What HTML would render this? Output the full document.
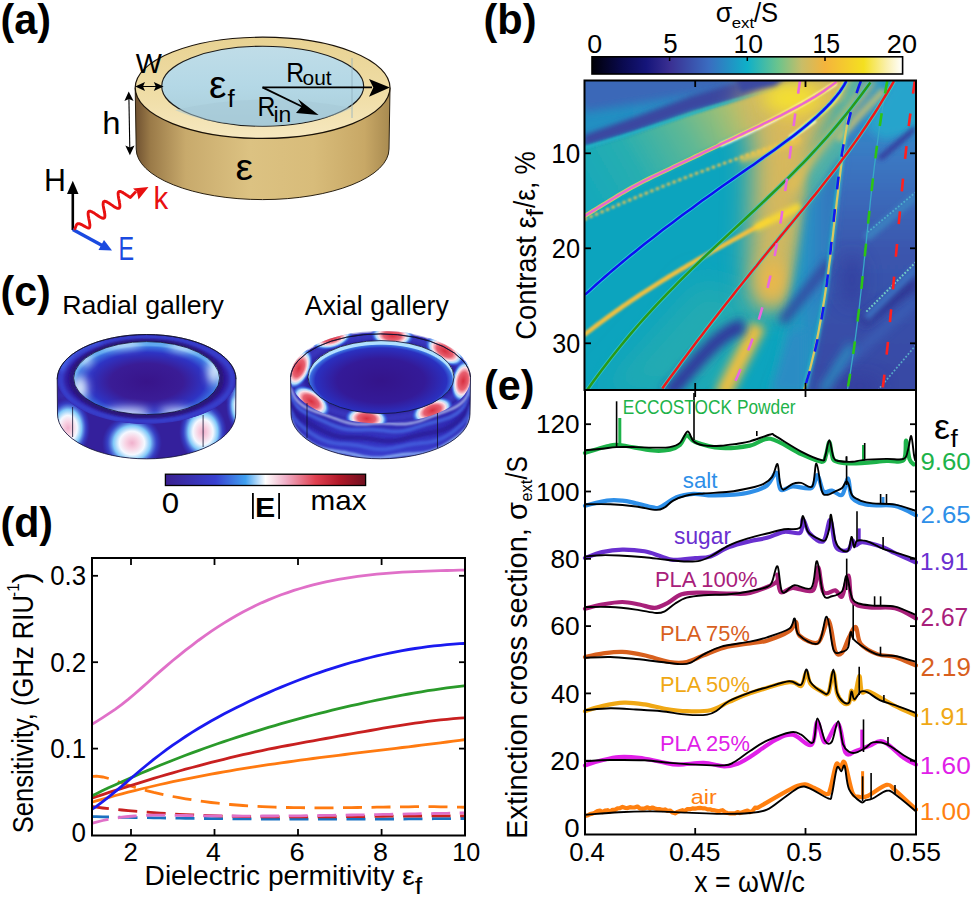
<!DOCTYPE html>
<html><head><meta charset="utf-8"><style>
html,body{margin:0;padding:0;background:#fff;width:973px;height:897px;overflow:hidden}
svg{display:block}
text{font-family:"Liberation Sans",sans-serif}
</style></head><body>
<svg width="973" height="897" viewBox="0 0 973 897">
<text x="0.5" y="34.3" font-size="42" fill="#000" text-anchor="start" font-weight="bold" textLength="50.5" lengthAdjust="spacingAndGlyphs" >(a)</text>
<text x="483.5" y="34.3" font-size="42" fill="#000" text-anchor="start" font-weight="bold" textLength="53" lengthAdjust="spacingAndGlyphs" >(b)</text>
<text x="0.5" y="306" font-size="42" fill="#000" text-anchor="start" font-weight="bold" textLength="50.3" lengthAdjust="spacingAndGlyphs" >(c)</text>
<text x="0.5" y="536.8" font-size="42" fill="#000" text-anchor="start" font-weight="bold" textLength="52.5" lengthAdjust="spacingAndGlyphs" >(d)</text>
<text x="484" y="399.7" font-size="42" fill="#000" text-anchor="start" font-weight="bold" textLength="50.5" lengthAdjust="spacingAndGlyphs" >(e)</text>
<defs><linearGradient id="cbar" x1="0" x2="1" y1="0" y2="0"><stop offset="0" stop-color="#000008"/><stop offset="0.1" stop-color="#0a0a50"/><stop offset="0.175" stop-color="#15157a"/><stop offset="0.25" stop-color="#3a2f92"/><stop offset="0.375" stop-color="#3a6cc0"/><stop offset="0.5" stop-color="#0fb0c8"/><stop offset="0.6" stop-color="#6cc48c"/><stop offset="0.675" stop-color="#c8bd68"/><stop offset="0.75" stop-color="#f4b43c"/><stop offset="0.875" stop-color="#f4e020"/><stop offset="0.95" stop-color="#faf0b0"/><stop offset="1" stop-color="#ffffff"/></linearGradient><clipPath id="clipb"><rect x="585" y="81" width="331" height="309"/></clipPath><filter id="bl1" filterUnits="userSpaceOnUse" x="0" y="0" width="973" height="897"><feGaussianBlur stdDeviation="1"/></filter><filter id="bl2" filterUnits="userSpaceOnUse" x="0" y="0" width="973" height="897"><feGaussianBlur stdDeviation="2.5"/></filter><filter id="bl4" filterUnits="userSpaceOnUse" x="0" y="0" width="973" height="897"><feGaussianBlur stdDeviation="5"/></filter><filter id="bl8" filterUnits="userSpaceOnUse" x="0" y="0" width="973" height="897"><feGaussianBlur stdDeviation="9"/></filter><filter id="bl12" filterUnits="userSpaceOnUse" x="0" y="0" width="973" height="897"><feGaussianBlur stdDeviation="14"/></filter></defs>
<rect x="592" y="56.8" width="310.6" height="17.2" fill="url(#cbar)" stroke="#000" stroke-width="1.6"/>
<line x1="669.6" y1="57" x2="669.6" y2="61" stroke="#000" stroke-width="1.5"/>
<line x1="747.3" y1="57" x2="747.3" y2="61" stroke="#000" stroke-width="1.5"/>
<line x1="825.0" y1="57" x2="825.0" y2="61" stroke="#000" stroke-width="1.5"/>
<text x="587.23" y="52.90" font-size="26.52" fill="#000" textLength="14.91" lengthAdjust="spacingAndGlyphs">0</text>
<text x="663.36" y="52.90" font-size="26.91" fill="#000" textLength="14.40" lengthAdjust="spacingAndGlyphs">5</text>
<text x="733.41" y="52.90" font-size="26.52" fill="#000" textLength="29.55" lengthAdjust="spacingAndGlyphs">10</text>
<text x="812.54" y="52.90" font-size="26.91" fill="#000" textLength="27.61" lengthAdjust="spacingAndGlyphs">15</text>
<text x="886.85" y="52.90" font-size="26.52" fill="#000" textLength="30.13" lengthAdjust="spacingAndGlyphs">20</text>
<text x="715.87" y="22.10" font-size="26.79" fill="#000" textLength="16.42" lengthAdjust="spacingAndGlyphs">σ</text>
<text x="731.68" y="27.60" font-size="15.36" fill="#000" textLength="22.47" lengthAdjust="spacingAndGlyphs">ext</text>
<text x="754.00" y="22.30" font-size="28.24" fill="#000" textLength="24.21" lengthAdjust="spacingAndGlyphs">/S</text>
<g clip-path="url(#clipb)"><defs><linearGradient id="tlb" gradientUnits="userSpaceOnUse" x1="585" y1="0" x2="810" y2="0"><stop offset="0" stop-color="#2090c2"/><stop offset="0.45" stop-color="#2a8cc4"/><stop offset="0.75" stop-color="#3a6cb8"/><stop offset="1" stop-color="#3a50a8"/></linearGradient><linearGradient id="grb" gradientUnits="userSpaceOnUse" x1="585" y1="200" x2="760" y2="100"><stop offset="0" stop-color="#14a8bb"/><stop offset="0.3" stop-color="#28aeb0"/><stop offset="0.6" stop-color="#60b894"/><stop offset="0.85" stop-color="#a8c070"/><stop offset="1" stop-color="#e8c050"/></linearGradient><linearGradient id="rgt" gradientUnits="userSpaceOnUse" x1="0" y1="81" x2="0" y2="390"><stop offset="0" stop-color="#2a9ccc"/><stop offset="0.25" stop-color="#3a78c2"/><stop offset="0.55" stop-color="#3a56ae"/><stop offset="1" stop-color="#3848a4"/></linearGradient><linearGradient id="mid" gradientUnits="userSpaceOnUse" x1="780" y1="0" x2="840" y2="0"><stop offset="0" stop-color="#18a8bc"/><stop offset="0.5" stop-color="#2a8cc4"/><stop offset="1" stop-color="#3a6cbc"/></linearGradient></defs><rect x="580" y="76" width="340" height="318" fill="#0ca4be"/><path d="M600,392 L700,280 L760,300 L720,392Z" fill="#20aab2" filter="url(#bl12)"/><path d="M570,150 L635,131 L691,111 L760,92 L830,72 L860,72 L850,100 L800,115 L760,125 L717,146 L664,172 L611,200 L570,225Z" fill="url(#grb)" filter="url(#bl2)"/><path d="M560,50 L860,50 L810,78 L760,91 L691,110 L635,130 L584,145 L560,152Z" fill="url(#tlb)" filter="url(#bl1)"/><path d="M570,70 L840,70 L840,78 L760,84 L691,95 L584,112Z" fill="#3a68b8" filter="url(#bl4)"/><path d="M584,135 L635,117 L691,96 L760,76 L830,66 L812,78 L760,92 L691,111 L635,131 L584,146Z" fill="#3a46a0" filter="url(#bl2)"/><path d="M584.0,147.7 L587.7,146.7 L591.3,145.7 L595.0,144.6 L598.6,143.5 L602.3,142.5 L606.0,141.4 L609.6,140.3 L613.3,139.1 L616.9,138.0 L620.6,136.9 L624.3,135.7 L627.9,134.5 L631.6,133.4 L635.3,132.2 L638.9,131.0 L642.6,129.8 L646.2,128.6 L649.9,127.4 L653.6,126.2 L657.2,125.0 L660.9,123.8 L664.5,122.6 L668.2,121.4 L671.9,120.2 L675.5,119.0 L679.2,117.8 L682.8,116.6 L686.5,115.4 L690.2,114.2 L693.8,113.0 L697.5,111.8 L701.2,110.7 L704.8,109.5 L708.5,108.3 L712.1,107.2 L715.8,106.0 L719.5,104.9 L723.1,103.8 L726.8,102.7 L730.4,101.6 L734.1,100.5 L737.8,99.4 L741.4,98.4 L745.1,97.3 L748.7,96.3 L752.4,95.3 L756.1,94.3 L759.7,93.4 L763.4,92.4 L767.1,91.5 L770.7,90.6 L774.4,89.7 L778.0,88.9 L781.7,88.0 L785.4,87.2 L789.0,86.5 L792.7,85.7 L796.3,85.0 L800.0,84.3" stroke="#20b8c8" stroke-width="2.5" fill="none" filter="url(#bl1)"/><path d="M755,76 L850,76 L835,105 L815,135 L806,180 L800,230 L794,262 L786,300 L772,312 L752,300 L750,250 L752,200 L752,150 L740,110Z" fill="#c8b868" filter="url(#bl12)"/><path d="M770,86 L835,86 L808,140 L796,230 L784,300 L762,300 L768,230 L772,140Z" fill="#dcb858" filter="url(#bl12)"/><ellipse cx="792" cy="98" rx="30" ry="16" fill="#f4e030" filter="url(#bl8)"/><ellipse cx="772" cy="282" rx="14" ry="22" fill="#ecb848" filter="url(#bl8)"/><path d="M735,74 L790,74 L775,86 L740,93Z" fill="#3a4aa2" filter="url(#bl2)"/><path d="M722.0,396.0 L722.6,394.7 L723.2,393.5 L723.8,392.2 L724.4,390.9 L725.1,389.7 L725.7,388.4 L726.3,387.2 L726.9,386.0 L727.5,384.7 L728.1,383.5 L728.7,382.3 L729.3,381.1 L729.9,379.9 L730.5,378.7 L731.2,377.5 L731.8,376.3 L732.4,375.1 L733.0,373.9 L733.6,372.7 L734.2,371.5 L734.8,370.4 L735.4,369.2 L736.0,368.0 L736.6,366.8 L737.3,365.7 L737.9,364.5 L738.5,363.3 L739.1,362.1 L739.7,361.0 L740.3,359.8 L740.9,358.6 L741.5,357.5 L742.1,356.3 L742.7,355.1 L743.4,354.0 L744.0,352.8 L744.6,351.6 L745.2,350.4 L745.8,349.3 L746.4,348.1 L747.0,346.9 L747.6,345.7 L748.2,344.5 L748.8,343.3 L749.5,342.2 L750.1,341.0 L750.7,339.8 L751.3,338.6 L751.9,337.4 L752.5,336.1 L753.1,334.9 L753.7,333.7 L754.3,332.5 L754.9,331.2 L755.6,330.0 L756.2,328.8 L756.8,327.5 L757.4,326.3 L758.0,325.0" stroke="#f0c040" stroke-width="16" fill="none" filter="url(#bl4)"/><path d="M850,76 L896,76 L882,101 L866,126 L850,150 L827,179 L810,200 L808,170 L830,130Z" fill="#50b0a8" filter="url(#bl4)"/><path d="M868,70 L930,70 L930,400 L802,400 L815,341 L824.5,300 L830,265 L837,193 L843,155 L849,111Z" fill="url(#rgt)" filter="url(#bl1)"/><path d="M896,76 L930,76 L930,130 L882,140 L866,126 L882,101Z" fill="#28a4cc" filter="url(#bl4)"/><path d="M806,205 L827,179 L843,155 L837,193 L830,265 L824.5,300 L815,341 L805,392 L770,392 L786,320 L798,260Z" fill="url(#mid)" filter="url(#bl4)"/><path d="M770,392 L790,330 L805,330 L805,392Z" fill="#2a8cc4" filter="url(#bl4)"/><path d="M782,322 L812,284 L830,262" stroke="#34409e" stroke-width="9" fill="none" filter="url(#bl4)"/><path d="M877,158 L915,125 L915,132 L882,160Z" fill="#34349a" filter="url(#bl2)"/><ellipse cx="852" cy="280" rx="12" ry="26" fill="#30359a" opacity="0.6" filter="url(#bl8)"/><path d="M862,322 L916,282" stroke="#2e3090" stroke-width="10" fill="none" filter="url(#bl4)"/><path d="M836,372 L916,300" stroke="#3a68bc" stroke-width="7" fill="none" opacity="0.8" filter="url(#bl4)"/><ellipse cx="860" cy="386" rx="22" ry="10" fill="#30359a" opacity="0.6" filter="url(#bl8)"/><path d="M822,392 L852,345" stroke="#2a90c0" stroke-width="8" fill="none" filter="url(#bl4)"/><path d="M866,238 L916,196" stroke="#3a80c0" stroke-width="8" fill="none" filter="url(#bl2)"/><path d="M866,318 L916,268" stroke="#3a70c0" stroke-width="7" fill="none" filter="url(#bl2)"/><path d="M668.0,394.0 L669.3,392.6 L670.6,391.3 L671.9,389.9 L673.2,388.5 L674.4,387.0 L675.7,385.6 L677.0,384.2 L678.3,382.7 L679.6,381.3 L680.9,379.8 L682.2,378.4 L683.5,376.9 L684.7,375.4 L686.0,374.0 L687.3,372.5 L688.6,371.0 L689.9,369.5 L691.2,368.1 L692.5,366.6 L693.8,365.2 L695.1,363.7 L696.3,362.3 L697.6,360.9 L698.9,359.4 L700.2,358.0 L701.5,356.6 L702.8,355.3 L704.1,353.9 L705.4,352.6 L706.6,351.2 L707.9,349.9 L709.2,348.6 L710.5,347.4 L711.8,346.1 L713.1,344.9 L714.4,343.7 L715.7,342.6 L716.9,341.4 L718.2,340.3 L719.5,339.2 L720.8,338.2 L722.1,337.2 L723.4,336.2 L724.7,335.2 L726.0,334.3 L727.3,333.4 L728.5,332.6 L729.8,331.8 L731.1,331.1 L732.4,330.3 L733.7,329.7 L735.0,329.0 L736.3,328.5 L737.6,327.9 L738.8,327.4 L740.1,327.0 L741.4,326.6 L742.7,326.3 L744.0,326.0" stroke="#32349c" stroke-width="14" fill="none" filter="url(#bl4)"/><path d="M584.0,335.1 L587.2,332.6 L590.3,330.2 L593.5,327.8 L596.6,325.4 L599.8,323.0 L602.9,320.7 L606.1,318.4 L609.2,316.1 L612.4,313.8 L615.5,311.6 L618.7,309.3 L621.8,307.1 L625.0,305.0 L628.1,302.8 L631.3,300.7 L634.4,298.6 L637.6,296.5 L640.7,294.4 L643.9,292.4 L647.1,290.3 L650.2,288.3 L653.4,286.3 L656.5,284.3 L659.7,282.4 L662.8,280.4 L666.0,278.5 L669.1,276.5 L672.3,274.6 L675.4,272.8 L678.6,270.9 L681.7,269.0 L684.9,267.2 L688.0,265.3 L691.2,263.5 L694.3,261.7 L697.5,259.8 L700.6,258.0 L703.8,256.3 L706.9,254.5 L710.1,252.7 L713.3,250.9 L716.4,249.2 L719.6,247.4 L722.7,245.7 L725.9,243.9 L729.0,242.2 L732.2,240.4 L735.3,238.7 L738.5,237.0 L741.6,235.2 L744.8,233.5 L747.9,231.8 L751.1,230.1 L754.2,228.4 L757.4,226.6 L760.5,224.9 L763.7,223.2 L766.8,221.5 L770.0,219.7" stroke="#f0c040" stroke-width="4.5" fill="none" filter="url(#bl1)"/><path d="M755,228 L800,206" stroke="#f8d830" stroke-width="7" fill="none" filter="url(#bl2)"/><path d="M584.0,219.8 L587.7,218.1 L591.3,216.5 L595.0,214.9 L598.6,213.3 L602.3,211.7 L606.0,210.1 L609.6,208.5 L613.3,207.0 L616.9,205.4 L620.6,203.8 L624.3,202.3 L627.9,200.8 L631.6,199.2 L635.3,197.7 L638.9,196.2 L642.6,194.7 L646.2,193.2 L649.9,191.7 L653.6,190.2 L657.2,188.7 L660.9,187.2 L664.5,185.8 L668.2,184.3 L671.9,182.9 L675.5,181.5 L679.2,180.0 L682.8,178.6 L686.5,177.2 L690.2,175.8 L693.8,174.4 L697.5,173.0 L701.2,171.7 L704.8,170.3 L708.5,169.0 L712.1,167.6 L715.8,166.3 L719.5,164.9 L723.1,163.6 L726.8,162.3 L730.4,161.0 L734.1,159.7 L737.8,158.5 L741.4,157.2 L745.1,155.9 L748.7,154.7 L752.4,153.4 L756.1,152.2 L759.7,151.0 L763.4,149.8 L767.1,148.6 L770.7,147.4 L774.4,146.2 L778.0,145.1 L781.7,143.9 L785.4,142.8 L789.0,141.6 L792.7,140.5 L796.3,139.4 L800.0,138.3" stroke="#e8c050" stroke-width="2.8" stroke-dasharray="3.5 2.5" fill="none" filter="url(#bl1)"/><path d="M740,160 L800,140" stroke="#f0c848" stroke-width="5" fill="none" filter="url(#bl2)"/><path d="M720.0,145.1 L722.0,144.2 L723.9,143.4 L725.9,142.5 L727.9,141.6 L729.8,140.8 L731.8,139.9 L733.8,139.0 L735.7,138.1 L737.7,137.2 L739.7,136.3 L741.6,135.4 L743.6,134.5 L745.6,133.6 L747.5,132.6 L749.5,131.7 L751.5,130.8 L753.4,129.8 L755.4,128.8 L757.4,127.9 L759.3,126.9 L761.3,125.9 L763.3,124.9 L765.2,123.9 L767.2,122.9 L769.2,121.9 L771.1,120.9 L773.1,119.9 L775.1,118.9 L777.0,117.8 L779.0,116.8 L780.9,115.7 L782.9,114.7 L784.9,113.6 L786.8,112.5 L788.8,111.5 L790.8,110.4 L792.7,109.3 L794.7,108.2 L796.7,107.1 L798.6,105.9 L800.6,104.8 L802.6,103.7 L804.5,102.5 L806.5,101.4 L808.5,100.2 L810.4,99.0 L812.4,97.9 L814.4,96.7 L816.3,95.5 L818.3,94.3 L820.3,93.1 L822.2,91.9 L824.2,90.6 L826.2,89.4 L828.1,88.2 L830.1,86.9 L832.1,85.7 L834.0,84.4 L836.0,83.1" stroke="#ffffff" stroke-width="4" fill="none" filter="url(#bl1)"/><path d="M790,138 L815,120" stroke="#fffbd0" stroke-width="5" fill="none" filter="url(#bl1)"/><path d="M800.0,131.0 L800.8,130.1 L801.6,129.2 L802.3,128.3 L803.1,127.5 L803.9,126.7 L804.7,126.0 L805.5,125.2 L806.2,124.5 L807.0,123.8 L807.8,123.1 L808.6,122.5 L809.4,121.9 L810.1,121.2 L810.9,120.6 L811.7,120.0 L812.5,119.5 L813.3,118.9 L814.0,118.3 L814.8,117.8 L815.6,117.2 L816.4,116.7 L817.2,116.1 L817.9,115.5 L818.7,115.0 L819.5,114.4 L820.3,113.8 L821.1,113.3 L821.8,112.7 L822.6,112.1 L823.4,111.5 L824.2,110.8 L824.9,110.2 L825.7,109.5 L826.5,108.8 L827.3,108.1 L828.1,107.4 L828.8,106.6 L829.6,105.8 L830.4,105.0 L831.2,104.2 L832.0,103.3 L832.7,102.4 L833.5,101.4 L834.3,100.4 L835.1,99.4 L835.9,98.3 L836.6,97.2 L837.4,96.1 L838.2,94.9 L839.0,93.6 L839.8,92.3 L840.5,90.9 L841.3,89.5 L842.1,88.1 L842.9,86.6 L843.7,85.0 L844.4,83.3 L845.2,81.6 L846.0,79.9" stroke="#f8e860" stroke-width="4" fill="none" filter="url(#bl1)"/><path d="M790.0,190.0 L791.4,187.8 L792.8,185.7 L794.2,183.6 L795.6,181.5 L796.9,179.4 L798.3,177.3 L799.7,175.3 L801.1,173.3 L802.5,171.3 L803.9,169.4 L805.3,167.4 L806.7,165.5 L808.1,163.6 L809.5,161.7 L810.8,159.8 L812.2,158.0 L813.6,156.1 L815.0,154.3 L816.4,152.5 L817.8,150.7 L819.2,148.9 L820.6,147.1 L822.0,145.4 L823.4,143.6 L824.7,141.8 L826.1,140.1 L827.5,138.4 L828.9,136.6 L830.3,134.9 L831.7,133.1 L833.1,131.4 L834.5,129.7 L835.9,128.0 L837.3,126.2 L838.6,124.5 L840.0,122.8 L841.4,121.0 L842.8,119.3 L844.2,117.5 L845.6,115.8 L847.0,114.0 L848.4,112.3 L849.8,110.5 L851.2,108.7 L852.5,106.9 L853.9,105.1 L855.3,103.3 L856.7,101.4 L858.1,99.6 L859.5,97.7 L860.9,95.8 L862.3,93.9 L863.7,92.0 L865.1,90.1 L866.4,88.1 L867.8,86.2 L869.2,84.2 L870.6,82.1 L872.0,80.1" stroke="#e8c050" stroke-width="7" fill="none" filter="url(#bl4)"/><path d="M838,140 L860,115 L884,90" stroke="#c8c070" stroke-width="7" fill="none" opacity="0.85" filter="url(#bl2)"/><path d="M849.3,110.9 L848.5,115.7 L847.7,120.4 L846.9,125.2 L846.2,130.0 L845.4,134.7 L844.7,139.5 L844.0,144.3 L843.4,149.0 L842.7,153.8 L842.1,158.5 L841.5,163.3 L840.9,168.1 L840.3,172.8 L839.7,177.6 L839.1,182.4 L838.5,187.1 L838.0,191.9 L837.4,196.7 L836.8,201.4 L836.3,206.2 L835.7,211.0 L835.2,215.7 L834.6,220.5 L834.1,225.2 L833.5,230.0 L833.0,234.8 L832.4,239.5 L831.8,244.3 L831.3,249.1 L830.7,253.8 L830.1,258.6 L829.4,263.4 L828.8,268.1 L828.2,272.9 L827.5,277.7 L826.8,282.4 L826.1,287.2 L825.4,291.9 L824.7,296.7 L823.9,301.5 L823.1,306.2 L822.3,311.0 L821.5,315.8 L820.6,320.5 L819.7,325.3 L818.8,330.1 L817.9,334.8 L816.9,339.6 L815.8,344.4 L814.8,349.1 L813.7,353.9 L812.6,358.6 L811.4,363.4 L810.2,368.2 L808.9,372.9 L807.6,377.7 L806.3,382.5 L804.9,387.2 L803.5,392.0" stroke="#30c8c8" stroke-width="5" fill="none" opacity="0.6" filter="url(#bl1)"/><path d="M849.3,110.9 L848.5,115.7 L847.7,120.4 L846.9,125.2 L846.2,130.0 L845.4,134.7 L844.7,139.5 L844.0,144.3 L843.4,149.0 L842.7,153.8 L842.1,158.5 L841.5,163.3 L840.9,168.1 L840.3,172.8 L839.7,177.6 L839.1,182.4 L838.5,187.1 L838.0,191.9 L837.4,196.7 L836.8,201.4 L836.3,206.2 L835.7,211.0 L835.2,215.7 L834.6,220.5 L834.1,225.2 L833.5,230.0 L833.0,234.8 L832.4,239.5 L831.8,244.3 L831.3,249.1 L830.7,253.8 L830.1,258.6 L829.4,263.4 L828.8,268.1 L828.2,272.9 L827.5,277.7 L826.8,282.4 L826.1,287.2 L825.4,291.9 L824.7,296.7 L823.9,301.5 L823.1,306.2 L822.3,311.0 L821.5,315.8 L820.6,320.5 L819.7,325.3 L818.8,330.1 L817.9,334.8 L816.9,339.6 L815.8,344.4 L814.8,349.1 L813.7,353.9 L812.6,358.6 L811.4,363.4 L810.2,368.2 L808.9,372.9 L807.6,377.7 L806.3,382.5 L804.9,387.2 L803.5,392.0" stroke="#dcc860" stroke-width="2.2" fill="none"/><path d="M887.3,81.0 L886.3,86.3 L885.4,91.5 L884.4,96.8 L883.5,102.1 L882.7,107.4 L881.8,112.6 L881.0,117.9 L880.2,123.2 L879.4,128.4 L878.7,133.7 L877.9,139.0 L877.2,144.3 L876.5,149.5 L875.8,154.8 L875.2,160.1 L874.5,165.3 L873.9,170.6 L873.3,175.9 L872.7,181.2 L872.1,186.4 L871.5,191.7 L870.9,197.0 L870.3,202.2 L869.8,207.5 L869.2,212.8 L868.7,218.1 L868.1,223.3 L867.6,228.6 L867.0,233.9 L866.5,239.1 L866.0,244.4 L865.4,249.7 L864.9,254.9 L864.3,260.2 L863.8,265.5 L863.2,270.8 L862.7,276.0 L862.1,281.3 L861.6,286.6 L861.0,291.8 L860.4,297.1 L859.8,302.4 L859.2,307.7 L858.6,312.9 L857.9,318.2 L857.3,323.5 L856.6,328.7 L855.9,334.0 L855.2,339.3 L854.5,344.6 L853.8,349.8 L853.0,355.1 L852.2,360.4 L851.4,365.6 L850.6,370.9 L849.8,376.2 L848.9,381.5 L848.0,386.7 L847.1,392.0" stroke="#38a8c8" stroke-width="1.3" fill="none"/><path d="M916,262 L866,312" stroke="#78d8c8" stroke-width="2" stroke-dasharray="1.8 1.8" fill="none" opacity="0.9"/><path d="M916,345 L878,390" stroke="#60c0d0" stroke-width="1.7" stroke-dasharray="1.8 1.8" fill="none" opacity="0.8"/><path d="M916,192 L868,232" stroke="#50b8d0" stroke-width="1.8" stroke-dasharray="1.8 1.8" fill="none" opacity="0.8"/><path d="M584.0,216.4 L588.3,213.8 L592.6,211.1 L596.8,208.5 L601.1,205.9 L605.4,203.2 L609.7,200.6 L614.0,198.0 L618.2,195.4 L622.5,192.8 L626.8,190.4 L631.1,187.9 L635.4,185.6 L639.6,183.3 L643.9,181.1 L648.2,179.0 L652.5,176.9 L656.8,174.8 L661.0,172.8 L665.3,170.8 L669.6,168.8 L673.9,166.7 L678.2,164.7 L682.4,162.7 L686.7,160.6 L691.0,158.6 L695.3,156.5 L699.6,154.5 L703.8,152.4 L708.1,150.4 L712.4,148.3 L716.7,146.3 L720.9,144.2 L725.2,142.2 L729.5,140.1 L733.8,138.1 L738.1,136.0 L742.3,134.0 L746.6,131.9 L750.9,129.9 L755.2,127.8 L759.5,125.8 L763.7,123.7 L768.0,121.6 L772.3,119.5 L776.6,117.4 L780.9,115.3 L785.1,113.1 L789.4,110.9 L793.7,108.6 L798.0,106.3 L802.3,104.0 L806.5,101.6 L810.8,99.1 L815.1,96.6 L819.4,93.9 L823.7,91.1 L827.9,88.1 L832.2,85.0 L836.5,81.7" stroke="#f8e040" stroke-width="4.2" fill="none" opacity="0.8"/><path d="M584.0,216.4 L588.3,213.8 L592.6,211.1 L596.8,208.5 L601.1,205.9 L605.4,203.2 L609.7,200.6 L614.0,198.0 L618.2,195.4 L622.5,192.8 L626.8,190.4 L631.1,187.9 L635.4,185.6 L639.6,183.3 L643.9,181.1 L648.2,179.0 L652.5,176.9 L656.8,174.8 L661.0,172.8 L665.3,170.8 L669.6,168.8 L673.9,166.7 L678.2,164.7 L682.4,162.7 L686.7,160.6 L691.0,158.6 L695.3,156.5 L699.6,154.5 L703.8,152.4 L708.1,150.4 L712.4,148.3 L716.7,146.3 L720.9,144.2 L725.2,142.2 L729.5,140.1 L733.8,138.1 L738.1,136.0 L742.3,134.0 L746.6,131.9 L750.9,129.9 L755.2,127.8 L759.5,125.8 L763.7,123.7 L768.0,121.6 L772.3,119.5 L776.6,117.4 L780.9,115.3 L785.1,113.1 L789.4,110.9 L793.7,108.6 L798.0,106.3 L802.3,104.0 L806.5,101.6 L810.8,99.1 L815.1,96.6 L819.4,93.9 L823.7,91.1 L827.9,88.1 L832.2,85.0 L836.5,81.7" stroke="#e868d0" stroke-width="2.5" fill="none"/><path d="M846.4,81.0 L844.4,84.6 L842.1,88.3 L839.6,91.9 L836.8,95.5 L833.8,99.1 L830.6,102.8 L827.2,106.4 L823.6,110.0 L819.8,113.6 L815.9,117.3 L811.7,120.9 L807.5,124.5 L803.1,128.1 L798.5,131.8 L793.9,135.4 L789.1,139.0 L784.3,142.6 L779.3,146.3 L774.3,149.9 L769.2,153.5 L764.1,157.1 L758.9,160.8 L753.8,164.4 L748.5,168.0 L743.3,171.6 L738.1,175.3 L732.9,178.9 L727.7,182.5 L722.6,186.1 L717.4,189.8 L712.3,193.4 L707.3,197.0 L702.2,200.6 L697.2,204.3 L692.3,207.9 L687.3,211.5 L682.4,215.1 L677.5,218.8 L672.7,222.4 L667.9,226.0 L663.1,229.6 L658.4,233.3 L653.7,236.9 L649.1,240.5 L644.5,244.1 L639.9,247.8 L635.4,251.4 L630.9,255.0 L626.5,258.6 L622.1,262.3 L617.8,265.9 L613.5,269.5 L609.2,273.1 L605.0,276.8 L600.9,280.4 L596.8,284.0 L592.8,287.6 L588.8,291.3 L584.8,294.9" stroke="#38d0e0" stroke-width="4.2" fill="none" opacity="0.8"/><path d="M846.4,81.0 L844.4,84.6 L842.1,88.3 L839.6,91.9 L836.8,95.5 L833.8,99.1 L830.6,102.8 L827.2,106.4 L823.6,110.0 L819.8,113.6 L815.9,117.3 L811.7,120.9 L807.5,124.5 L803.1,128.1 L798.5,131.8 L793.9,135.4 L789.1,139.0 L784.3,142.6 L779.3,146.3 L774.3,149.9 L769.2,153.5 L764.1,157.1 L758.9,160.8 L753.8,164.4 L748.5,168.0 L743.3,171.6 L738.1,175.3 L732.9,178.9 L727.7,182.5 L722.6,186.1 L717.4,189.8 L712.3,193.4 L707.3,197.0 L702.2,200.6 L697.2,204.3 L692.3,207.9 L687.3,211.5 L682.4,215.1 L677.5,218.8 L672.7,222.4 L667.9,226.0 L663.1,229.6 L658.4,233.3 L653.7,236.9 L649.1,240.5 L644.5,244.1 L639.9,247.8 L635.4,251.4 L630.9,255.0 L626.5,258.6 L622.1,262.3 L617.8,265.9 L613.5,269.5 L609.2,273.1 L605.0,276.8 L600.9,280.4 L596.8,284.0 L592.8,287.6 L588.8,291.3 L584.8,294.9" stroke="#0c10f0" stroke-width="2.5" fill="none"/><path d="M587.0,390.3 L591.8,383.6 L596.6,376.9 L601.4,370.5 L606.2,364.2 L611.0,358.0 L615.8,351.9 L620.6,346.0 L625.4,340.1 L630.2,334.4 L635.0,328.8 L639.8,323.3 L644.6,317.9 L649.4,312.6 L654.2,307.4 L659.1,302.2 L663.9,297.2 L668.7,292.2 L673.5,287.3 L678.3,282.4 L683.1,277.6 L687.9,272.9 L692.7,268.2 L697.5,263.5 L702.3,258.9 L707.1,254.4 L711.9,249.8 L716.7,245.3 L721.5,240.8 L726.3,236.3 L731.1,231.9 L735.9,227.4 L740.7,223.0 L745.5,218.5 L750.3,214.0 L755.1,209.6 L759.9,205.1 L764.7,200.6 L769.5,196.0 L774.3,191.4 L779.1,186.8 L783.9,182.1 L788.7,177.4 L793.5,172.6 L798.3,167.7 L803.2,162.8 L808.0,157.8 L812.8,152.7 L817.6,147.5 L822.4,142.2 L827.2,136.8 L832.0,131.3 L836.8,125.6 L841.6,119.9 L846.4,114.0 L851.2,108.0 L856.0,101.8 L860.8,95.5 L865.6,89.0 L870.4,82.4" stroke="#38c8d0" stroke-width="4.2" fill="none" opacity="0.8"/><path d="M587.0,390.3 L591.8,383.6 L596.6,376.9 L601.4,370.5 L606.2,364.2 L611.0,358.0 L615.8,351.9 L620.6,346.0 L625.4,340.1 L630.2,334.4 L635.0,328.8 L639.8,323.3 L644.6,317.9 L649.4,312.6 L654.2,307.4 L659.1,302.2 L663.9,297.2 L668.7,292.2 L673.5,287.3 L678.3,282.4 L683.1,277.6 L687.9,272.9 L692.7,268.2 L697.5,263.5 L702.3,258.9 L707.1,254.4 L711.9,249.8 L716.7,245.3 L721.5,240.8 L726.3,236.3 L731.1,231.9 L735.9,227.4 L740.7,223.0 L745.5,218.5 L750.3,214.0 L755.1,209.6 L759.9,205.1 L764.7,200.6 L769.5,196.0 L774.3,191.4 L779.1,186.8 L783.9,182.1 L788.7,177.4 L793.5,172.6 L798.3,167.7 L803.2,162.8 L808.0,157.8 L812.8,152.7 L817.6,147.5 L822.4,142.2 L827.2,136.8 L832.0,131.3 L836.8,125.6 L841.6,119.9 L846.4,114.0 L851.2,108.0 L856.0,101.8 L860.8,95.5 L865.6,89.0 L870.4,82.4" stroke="#2a9a18" stroke-width="2.5" fill="none"/><path d="M662.3,388.5 L666.2,383.0 L670.2,377.6 L674.1,372.2 L678.0,366.9 L681.9,361.6 L685.9,356.3 L689.8,351.0 L693.7,345.8 L697.6,340.6 L701.6,335.5 L705.5,330.3 L709.4,325.2 L713.4,320.1 L717.3,315.1 L721.2,310.0 L725.1,305.0 L729.1,300.0 L733.0,295.1 L736.9,290.1 L740.8,285.2 L744.8,280.3 L748.7,275.4 L752.6,270.5 L756.6,265.7 L760.5,260.8 L764.4,256.0 L768.3,251.2 L772.3,246.4 L776.2,241.7 L780.1,236.9 L784.0,232.2 L788.0,227.4 L791.9,222.7 L795.8,218.0 L799.7,213.2 L803.7,208.5 L807.6,203.7 L811.5,198.9 L815.5,194.1 L819.4,189.2 L823.3,184.3 L827.2,179.3 L831.2,174.3 L835.1,169.2 L839.0,164.0 L842.9,158.8 L846.9,153.5 L850.8,148.1 L854.7,142.6 L858.7,137.0 L862.6,131.3 L866.5,125.5 L870.4,119.5 L874.4,113.5 L878.3,107.3 L882.2,100.9 L886.1,94.5 L890.1,87.8 L894.0,81.1" stroke="#38d8d0" stroke-width="4.2" fill="none" opacity="0.8"/><path d="M662.3,388.5 L666.2,383.0 L670.2,377.6 L674.1,372.2 L678.0,366.9 L681.9,361.6 L685.9,356.3 L689.8,351.0 L693.7,345.8 L697.6,340.6 L701.6,335.5 L705.5,330.3 L709.4,325.2 L713.4,320.1 L717.3,315.1 L721.2,310.0 L725.1,305.0 L729.1,300.0 L733.0,295.1 L736.9,290.1 L740.8,285.2 L744.8,280.3 L748.7,275.4 L752.6,270.5 L756.6,265.7 L760.5,260.8 L764.4,256.0 L768.3,251.2 L772.3,246.4 L776.2,241.7 L780.1,236.9 L784.0,232.2 L788.0,227.4 L791.9,222.7 L795.8,218.0 L799.7,213.2 L803.7,208.5 L807.6,203.7 L811.5,198.9 L815.5,194.1 L819.4,189.2 L823.3,184.3 L827.2,179.3 L831.2,174.3 L835.1,169.2 L839.0,164.0 L842.9,158.8 L846.9,153.5 L850.8,148.1 L854.7,142.6 L858.7,137.0 L862.6,131.3 L866.5,125.5 L870.4,119.5 L874.4,113.5 L878.3,107.3 L882.2,100.9 L886.1,94.5 L890.1,87.8 L894.0,81.1" stroke="#f01818" stroke-width="2.5" fill="none"/><path d="M800.0,81.0 L799.2,86.3 L798.4,91.5 L797.6,96.8 L796.9,102.1 L796.1,107.4 L795.4,112.6 L794.7,117.9 L794.0,123.2 L793.3,128.4 L792.6,133.7 L792.0,139.0 L791.3,144.3 L790.6,149.5 L790.0,154.8 L789.3,160.1 L788.6,165.3 L787.9,170.6 L787.2,175.9 L786.6,181.2 L785.8,186.4 L785.1,191.7 L784.4,197.0 L783.6,202.2 L782.9,207.5 L782.1,212.8 L781.3,218.1 L780.4,223.3 L779.6,228.6 L778.7,233.9 L777.8,239.1 L776.8,244.4 L775.8,249.7 L774.8,254.9 L773.8,260.2 L772.7,265.5 L771.5,270.8 L770.4,276.0 L769.1,281.3 L767.9,286.6 L766.6,291.8 L765.2,297.1 L763.8,302.4 L762.3,307.7 L760.8,312.9 L759.2,318.2 L757.6,323.5 L755.8,328.7 L754.1,334.0 L752.3,339.3 L750.4,344.6 L748.4,349.8 L746.4,355.1 L744.3,360.4 L742.1,365.6 L739.8,370.9 L737.5,376.2 L735.1,381.5 L732.6,386.7 L730.0,392.0" stroke="#e868e0" stroke-width="2.6" stroke-dasharray="12.8 20" fill="none"/><path d="M860.9,81.0 L858.9,86.3 L857.1,91.5 L855.3,96.8 L853.7,102.1 L852.2,107.4 L850.7,112.6 L849.3,117.9 L848.0,123.2 L846.8,128.4 L845.7,133.7 L844.6,139.0 L843.6,144.3 L842.7,149.5 L841.8,154.8 L841.0,160.1 L840.2,165.3 L839.4,170.6 L838.7,175.9 L838.0,181.2 L837.4,186.4 L836.8,191.7 L836.2,197.0 L835.6,202.2 L835.0,207.5 L834.5,212.8 L833.9,218.1 L833.4,223.3 L832.9,228.6 L832.3,233.9 L831.8,239.1 L831.2,244.4 L830.7,249.7 L830.1,254.9 L829.6,260.2 L829.0,265.5 L828.4,270.8 L827.7,276.0 L827.1,281.3 L826.4,286.6 L825.7,291.8 L825.0,297.1 L824.2,302.4 L823.4,307.7 L822.5,312.9 L821.6,318.2 L820.7,323.5 L819.7,328.7 L818.7,334.0 L817.6,339.3 L816.4,344.6 L815.2,349.8 L814.0,355.1 L812.6,360.4 L811.2,365.6 L809.8,370.9 L808.2,376.2 L806.6,381.5 L804.9,386.7 L803.1,392.0" stroke="#1018f0" stroke-width="2.6" stroke-dasharray="12.8 20" fill="none"/><path d="M887.3,81.0 L886.3,86.3 L885.4,91.5 L884.4,96.8 L883.5,102.1 L882.7,107.4 L881.8,112.6 L881.0,117.9 L880.2,123.2 L879.4,128.4 L878.7,133.7 L877.9,139.0 L877.2,144.3 L876.5,149.5 L875.8,154.8 L875.2,160.1 L874.5,165.3 L873.9,170.6 L873.3,175.9 L872.7,181.2 L872.1,186.4 L871.5,191.7 L870.9,197.0 L870.3,202.2 L869.8,207.5 L869.2,212.8 L868.7,218.1 L868.1,223.3 L867.6,228.6 L867.0,233.9 L866.5,239.1 L866.0,244.4 L865.4,249.7 L864.9,254.9 L864.3,260.2 L863.8,265.5 L863.2,270.8 L862.7,276.0 L862.1,281.3 L861.6,286.6 L861.0,291.8 L860.4,297.1 L859.8,302.4 L859.2,307.7 L858.6,312.9 L857.9,318.2 L857.3,323.5 L856.6,328.7 L855.9,334.0 L855.2,339.3 L854.5,344.6 L853.8,349.8 L853.0,355.1 L852.2,360.4 L851.4,365.6 L850.6,370.9 L849.8,376.2 L848.9,381.5 L848.0,386.7 L847.1,392.0" stroke="#2cc414" stroke-width="2.6" stroke-dasharray="12.8 20" fill="none"/><path d="M914.8,81.0 L914.1,86.3 L913.3,91.5 L912.6,96.8 L911.8,102.1 L911.1,107.4 L910.5,112.6 L909.8,117.9 L909.1,123.2 L908.5,128.4 L907.9,133.7 L907.3,139.0 L906.7,144.3 L906.1,149.5 L905.5,154.8 L904.9,160.1 L904.4,165.3 L903.9,170.6 L903.3,175.9 L902.8,181.2 L902.3,186.4 L901.8,191.7 L901.3,197.0 L900.8,202.2 L900.3,207.5 L899.8,212.8 L899.3,218.1 L898.8,223.3 L898.4,228.6 L897.9,233.9 L897.4,239.1 L897.0,244.4 L896.5,249.7 L896.0,254.9 L895.6,260.2 L895.1,265.5 L894.7,270.8 L894.2,276.0 L893.7,281.3 L893.2,286.6 L892.8,291.8 L892.3,297.1 L891.8,302.4 L891.3,307.7 L890.8,312.9 L890.3,318.2 L889.8,323.5 L889.3,328.7 L888.8,334.0 L888.2,339.3 L887.7,344.6 L887.1,349.8 L886.6,355.1 L886.0,360.4 L885.4,365.6 L884.8,370.9 L884.2,376.2 L883.6,381.5 L882.9,386.7 L882.3,392.0" stroke="#ff2020" stroke-width="2.6" stroke-dasharray="12.8 20" fill="none"/></g>
<rect x="584.5" y="80.5" width="331.5" height="309.5" fill="none" stroke="#000" stroke-width="2"/>
<line x1="585" y1="153.3" x2="591" y2="153.3" stroke="#000" stroke-width="1.8"/>
<line x1="910" y1="153.3" x2="916" y2="153.3" stroke="#000" stroke-width="1.8"/>
<line x1="585" y1="248.3" x2="591" y2="248.3" stroke="#000" stroke-width="1.8"/>
<line x1="910" y1="248.3" x2="916" y2="248.3" stroke="#000" stroke-width="1.8"/>
<line x1="585" y1="343.3" x2="591" y2="343.3" stroke="#000" stroke-width="1.8"/>
<line x1="910" y1="343.3" x2="916" y2="343.3" stroke="#000" stroke-width="1.8"/>
<line x1="695.2" y1="81" x2="695.2" y2="87" stroke="#000" stroke-width="1.8"/>
<line x1="695.2" y1="383" x2="695.2" y2="390" stroke="#000" stroke-width="1.8"/>
<line x1="805.5" y1="81" x2="805.5" y2="87" stroke="#000" stroke-width="1.8"/>
<line x1="805.5" y1="383" x2="805.5" y2="390" stroke="#000" stroke-width="1.8"/>
<text x="551.15" y="162.90" font-size="27.96" fill="#000" textLength="28.99" lengthAdjust="spacingAndGlyphs">10</text>
<text x="551.83" y="257.90" font-size="27.96" fill="#000" textLength="28.28" lengthAdjust="spacingAndGlyphs">20</text>
<text x="552.16" y="352.90" font-size="27.96" fill="#000" textLength="27.94" lengthAdjust="spacingAndGlyphs">30</text>
<g transform="translate(535.6,338.3) rotate(-90)"><text x="-1.37" y="0.00" font-size="30.11" fill="#000" textLength="123.33" lengthAdjust="spacingAndGlyphs">Contrast ε</text></g>
<g transform="translate(535.6,338.3) rotate(-90)"><text x="121.48" y="7.30" font-size="23.11" fill="#000" textLength="7.76" lengthAdjust="spacingAndGlyphs">f</text></g>
<g transform="translate(535.6,338.3) rotate(-90)"><text x="130.40" y="-1.00" font-size="28.92" fill="#000" textLength="56.64" lengthAdjust="spacingAndGlyphs">/ε, %</text></g>
<defs><clipPath id="clipe"><rect x="582" y="391" width="336" height="443"/></clipPath></defs><g clip-path="url(#clipe)"><path d="M585.0,815.9 L587.5,815.5 L590.0,814.1 L592.5,813.6 L595.0,812.6 L597.5,811.0 L600.0,810.6 L602.5,812.1 L605.0,810.6 L607.5,810.2 L610.0,811.6 L612.5,809.8 L615.0,809.9 L617.5,808.4 L620.0,808.2 L622.5,806.9 L625.0,807.8 L627.5,808.1 L630.0,807.2 L632.5,807.5 L635.0,807.3 L637.5,806.5 L640.0,808.5 L642.5,808.6 L645.0,808.3 L647.5,807.3 L650.0,808.7 L652.5,807.5 L655.0,808.4 L657.5,809.2 L660.0,809.2 L662.5,810.1 L665.0,809.4 L667.5,810.8 L670.0,810.5 L672.5,812.5 L675.0,813.3 L677.5,811.9 L680.0,811.0 L682.5,810.2 L685.0,810.9 L687.5,809.0 L690.0,809.2 L692.5,808.4 L695.0,808.6 L697.5,808.2 L700.0,807.9 L702.5,808.3 L705.0,808.4 L707.5,809.4 L710.0,809.3 L712.5,810.2 L715.0,810.4 L717.5,811.1 L720.0,810.8 L722.5,810.2 L725.0,812.2 L727.5,813.0 L730.0,813.4 L732.5,813.3 L735.0,813.3 L737.5,812.0 L740.0,813.1 L742.5,812.2 L745.0,811.3 L747.5,810.6 L750.0,812.1 L752.5,811.0 L755.0,807.7 L757.5,807.9" stroke="#ff8010" stroke-width="4.2" fill="none" stroke-linejoin="round"/><path d="M757.5,807.9 C764.2,804.2 788.5,789.1 797.8,785.7 C807.1,782.3 808.3,786.0 813.1,787.4 C817.9,788.8 823.9,793.9 826.8,794.2 C829.6,794.5 828.6,794.1 830.2,789.1 C831.8,784.1 834.5,768.0 836.2,764.4 C837.9,760.8 839.0,768.1 840.4,767.8 C841.8,767.5 842.7,758.6 844.7,762.7 C846.7,766.8 850.0,786.8 852.4,792.5 C854.8,798.2 856.7,796.2 859.2,796.8 C861.8,797.4 863.2,798.0 867.7,796.0 C872.2,794.0 882.0,785.9 886.5,784.9 C891.0,783.9 890.1,785.9 895.0,790.0 C899.9,794.1 912.5,806.3 916.0,809.6" stroke="#ff8010" stroke-width="4.2" fill="none" stroke-linejoin="round" stroke-linecap="round"/><line x1="862.6" y1="797" x2="862.6" y2="771.2" stroke="#ff8010" stroke-width="3"/><path d="M585.0,814.8 C590.6,814.4 607.6,812.8 618.9,812.2 C630.2,811.6 641.5,811.3 652.8,811.4 C664.1,811.5 675.4,812.2 686.7,812.6 C698.0,813.0 710.2,813.8 720.7,813.9 C731.2,814.0 742.3,813.7 750.0,813.0 C757.7,812.3 761.3,812.1 767.0,809.6 C772.7,807.1 778.7,801.4 784.1,797.7 C789.5,794.0 795.2,789.0 799.5,787.4 C803.8,785.8 804.9,786.4 809.7,788.3 C814.5,790.1 824.8,797.5 828.5,798.5 C832.2,799.5 830.5,799.3 831.9,794.2 C833.3,789.1 835.4,771.6 837.0,767.8 C838.6,764.0 840.0,771.5 841.3,771.2 C842.6,770.9 843.4,763.1 844.7,766.1 C846.0,769.1 846.3,783.1 849.0,789.1 C851.7,795.1 858.1,800.0 860.9,801.9 C863.7,803.8 864.0,800.8 866.0,800.2 C868.0,799.6 869.4,800.1 872.8,798.5 C876.2,796.9 882.8,791.5 886.5,790.8 C890.2,790.1 890.1,790.8 895.0,794.2 C899.9,797.6 912.5,808.4 916.0,811.3" stroke="#000" stroke-width="1.9" fill="none" stroke-linejoin="round"/><line x1="862.6" y1="801" x2="862.6" y2="776.3" stroke="#000" stroke-width="1.6"/><line x1="871.1" y1="799" x2="871.1" y2="772.9" stroke="#000" stroke-width="1.6"/><line x1="895" y1="794" x2="895" y2="785" stroke="#000" stroke-width="1.6"/><path d="M585.0,765.4 C587.8,764.5 596.4,761.7 602.0,760.3 C607.6,758.9 612.7,757.4 618.9,757.0 C625.1,756.6 632.2,757.0 639.3,757.8 C646.4,758.6 654.8,760.9 661.3,762.0 C667.8,763.1 671.2,764.5 678.3,764.6 C685.4,764.8 696.1,762.6 703.7,762.9 C711.3,763.2 718.5,766.2 724.1,766.3 C729.8,766.4 733.3,765.3 737.6,763.7 C741.9,762.1 743.7,760.9 750.0,756.9 C756.3,752.9 768.5,743.6 775.6,739.9 C782.7,736.2 786.7,733.9 792.7,734.7 C798.7,735.6 807.3,747.1 811.4,745.0 C815.5,742.9 815.1,722.3 817.4,721.9 C819.7,721.5 821.6,742.1 825.1,742.4 C828.6,742.7 834.8,721.9 838.2,723.6 C841.6,725.3 842.6,748.1 845.5,752.7 C848.4,757.3 851.8,752.1 855.8,751.0 C859.8,749.9 864.8,747.4 869.4,745.8 C874.0,744.2 877.4,739.6 883.1,741.6 C888.8,743.6 898.1,754.0 903.6,757.8 C909.1,761.6 913.9,763.5 916.0,764.6" stroke="#e020e8" stroke-width="4.2" fill="none" stroke-linejoin="round" stroke-linecap="round"/><line x1="861.8" y1="751" x2="861.8" y2="729.6" stroke="#e020e8" stroke-width="3"/><path d="M585.0,761.2 C589.2,761.0 600.5,760.1 610.4,760.0 C620.3,759.9 634.5,759.8 644.4,760.3 C654.3,760.8 661.3,762.2 669.8,762.9 C678.3,763.6 686.2,764.2 695.2,764.6 C704.2,765.0 717.6,765.8 724.1,765.4 C730.6,765.0 729.9,764.4 734.2,762.0 C738.5,759.6 744.5,754.5 750.0,751.0 C755.5,747.5 760.2,743.8 767.0,740.7 C773.8,737.6 785.3,733.2 791.0,732.2 C796.7,731.2 797.5,733.0 801.2,734.7 C804.9,736.4 810.4,745.1 813.1,742.4 C815.8,739.7 815.4,718.8 817.4,718.5 C819.4,718.2 822.7,736.9 825.1,740.7 C827.5,744.6 829.7,744.9 831.9,741.6 C834.1,738.3 836.4,720.7 838.2,721.1 C840.1,721.5 841.2,739.0 843.0,744.1 C844.8,749.2 846.9,750.4 849.0,751.8 C851.1,753.2 853.0,753.4 855.8,752.7 C858.6,752.0 863.2,749.2 866.0,747.5 C868.8,745.8 869.4,743.0 872.8,742.4 C876.2,741.8 881.4,742.0 886.5,744.1 C891.6,746.2 898.7,752.2 903.6,755.2 C908.5,758.2 913.9,760.9 916.0,762.0" stroke="#000" stroke-width="1.9" fill="none" stroke-linejoin="round"/><line x1="863.5" y1="752" x2="863.5" y2="719.4" stroke="#000" stroke-width="1.6"/><line x1="888" y1="744" x2="888" y2="737" stroke="#000" stroke-width="1.6"/><path d="M585.0,711.2 C587.8,710.4 595.5,707.5 602.0,706.1 C608.5,704.7 616.9,703.0 624.0,702.7 C631.1,702.4 637.6,703.4 644.4,704.4 C651.2,705.4 657.7,707.6 664.7,708.7 C671.8,709.8 679.1,710.9 686.7,711.2 C694.3,711.5 703.4,711.8 710.5,710.3 C717.6,708.8 722.5,704.7 729.1,701.9 C735.7,699.1 740.0,696.6 750.0,693.3 C760.0,690.0 780.7,683.4 789.2,682.2 C797.7,681.0 798.4,687.7 801.2,686.0 C804.1,684.3 804.7,672.3 806.3,672.0 C807.9,671.7 808.0,680.7 810.6,684.0 C813.2,687.3 818.7,690.1 821.7,691.6 C824.7,693.1 826.6,696.3 828.5,693.0 C830.4,689.7 831.9,672.0 833.3,672.0 C834.7,672.0 835.4,687.9 837.0,693.0 C838.6,698.1 841.0,701.0 843.0,702.7 C845.0,704.4 847.6,705.0 849.0,703.0 C850.4,701.0 850.6,691.4 851.5,690.7 C852.4,690.0 853.1,701.5 854.4,699.0 C855.7,696.5 857.9,677.2 859.2,676.0 C860.5,674.8 860.3,689.4 862.0,692.0 C863.7,694.6 863.9,689.3 869.4,691.6 C874.9,693.9 887.2,702.0 895.0,706.0 C902.8,710.0 912.5,713.9 916.0,715.5" stroke="#f0a814" stroke-width="4.2" fill="none" stroke-linejoin="round" stroke-linecap="round"/><path d="M585.0,710.3 C589.2,710.0 601.9,708.4 610.4,708.3 C618.9,708.2 627.4,709.0 635.9,709.5 C644.4,710.0 652.8,710.4 661.3,711.2 C669.8,712.1 679.1,714.0 686.7,714.6 C694.3,715.2 702.0,715.3 707.1,714.6 C712.2,713.9 713.6,712.6 717.3,710.3 C721.0,708.0 723.6,704.0 729.1,701.0 C734.6,698.0 743.7,694.7 750.0,692.4 C756.3,690.1 760.5,689.1 767.0,687.3 C773.5,685.4 783.5,681.7 789.2,681.3 C794.9,680.9 798.4,686.7 801.2,684.7 C804.1,682.7 804.7,669.8 806.3,669.4 C807.9,669.0 808.0,678.5 810.6,682.2 C813.2,685.9 818.7,689.9 821.7,691.6 C824.7,693.3 826.6,696.1 828.5,692.4 C830.4,688.7 831.9,669.4 833.3,669.4 C834.7,669.4 835.4,687.0 837.0,692.4 C838.6,697.8 841.0,700.1 843.0,701.8 C845.0,703.5 847.6,704.4 849.0,702.7 C850.4,701.0 850.6,692.2 851.5,691.6 C852.4,691.0 852.8,699.2 854.4,699.2 C856.0,699.2 858.7,692.7 860.9,691.6 C863.1,690.5 864.6,691.0 867.7,692.4 C870.8,693.8 875.2,698.0 879.7,700.1 C884.2,702.2 889.0,703.1 895.0,705.2 C901.0,707.3 912.5,711.6 916.0,712.9" stroke="#000" stroke-width="1.9" fill="none" stroke-linejoin="round"/><line x1="859.2" y1="695" x2="859.2" y2="666.8" stroke="#000" stroke-width="1.6"/><line x1="883.9" y1="702" x2="883.9" y2="695" stroke="#000" stroke-width="1.6"/><path d="M585.0,657.0 C587.8,656.4 595.8,654.5 602.0,653.6 C608.2,652.8 615.2,651.6 622.3,651.9 C629.4,652.2 636.5,653.6 644.4,655.3 C652.3,657.0 662.8,660.9 669.8,662.0 C676.8,663.1 681.1,663.1 686.7,662.0 C692.4,660.9 697.5,657.7 703.7,655.3 C709.9,652.9 716.4,649.6 724.1,647.6 C731.8,645.6 742.9,644.4 750.0,643.3 C757.1,642.1 760.5,642.7 767.0,640.7 C773.5,638.7 784.4,634.4 789.2,631.3 C794.1,628.2 794.4,621.3 796.1,622.0 C797.8,622.7 795.8,632.2 799.5,635.6 C803.2,639.0 813.4,645.0 818.2,642.4 C823.0,639.8 825.6,618.8 828.5,620.2 C831.4,621.6 833.0,645.6 835.3,651.0 C837.6,656.4 839.8,655.0 842.1,652.7 C844.4,650.4 846.7,641.6 849.0,637.3 C851.3,633.0 853.8,626.0 855.8,627.1 C857.8,628.2 857.2,639.6 860.9,644.1 C864.6,648.6 872.3,652.3 878.0,654.4 C883.7,656.5 888.7,655.0 895.0,656.9 C901.3,658.8 912.5,664.1 916.0,665.5" stroke="#d8601e" stroke-width="4.2" fill="none" stroke-linejoin="round" stroke-linecap="round"/><path d="M585.0,657.8 C589.2,657.7 601.9,656.8 610.4,657.0 C618.9,657.2 627.4,658.2 635.9,659.0 C644.4,659.8 653.9,661.1 661.3,662.0 C668.6,662.9 675.2,664.0 680.0,664.1 C684.8,664.2 686.1,664.5 690.1,662.9 C694.1,661.3 698.6,657.1 703.7,654.4 C708.8,651.7 713.0,648.9 720.7,646.8 C728.4,644.7 742.3,643.2 750.0,641.6 C757.7,640.0 760.5,639.4 767.0,637.3 C773.5,635.2 784.6,631.9 789.2,628.8 C793.8,625.7 793.1,617.5 794.7,618.5 C796.3,619.5 794.7,630.6 798.6,634.7 C802.5,638.8 813.5,646.3 818.2,643.3 C822.9,640.3 824.2,615.7 826.8,616.8 C829.4,617.9 831.0,644.3 833.6,650.1 C836.2,655.9 839.7,652.2 842.1,651.8 C844.5,651.4 846.7,650.8 848.1,647.5 C849.5,644.2 849.7,633.5 850.7,632.2 C851.7,630.9 851.0,636.8 854.1,639.9 C857.2,643.0 865.0,648.3 869.4,650.9 C873.8,653.5 876.2,654.4 880.5,655.2 C884.8,656.1 889.1,654.9 895.0,656.0 C900.9,657.1 912.5,661.0 916.0,662.0" stroke="#000" stroke-width="1.9" fill="none" stroke-linejoin="round"/><line x1="853.2" y1="640" x2="853.2" y2="602" stroke="#000" stroke-width="1.6"/><line x1="880.5" y1="655" x2="880.5" y2="646.7" stroke="#000" stroke-width="1.6"/><path d="M585.0,608.7 C587.8,608.0 595.8,605.6 602.0,604.5 C608.2,603.4 616.1,602.0 622.3,602.0 C628.5,602.0 633.9,603.5 639.3,604.5 C644.7,605.5 650.0,608.0 654.5,607.9 C659.0,607.8 661.9,606.0 666.4,603.7 C670.9,601.4 676.1,596.1 681.7,594.3 C687.4,592.4 692.4,592.7 700.3,592.6 C708.2,592.5 720.8,593.5 729.1,593.5 C737.4,593.5 742.2,594.7 750.0,592.9 C757.8,591.1 771.1,585.7 775.6,582.7 C780.1,579.7 776.4,573.3 777.3,574.9 C778.1,576.5 778.1,590.0 780.7,592.1 C783.3,594.2 787.3,588.1 792.7,587.8 C798.1,587.5 808.9,593.8 813.1,590.4 C817.4,587.0 816.5,566.9 818.2,567.2 C819.9,567.5 820.5,588.2 823.4,592.1 C826.2,596.0 832.2,589.7 835.3,590.4 C838.4,591.1 839.9,598.8 842.1,596.3 C844.3,593.8 846.9,574.9 848.6,575.7 C850.3,576.6 848.9,596.1 852.4,601.4 C855.9,606.7 862.3,606.2 869.4,607.4 C876.5,608.5 887.2,606.4 895.0,608.3 C902.8,610.1 912.5,616.8 916.0,618.5" stroke="#a8207a" stroke-width="4.2" fill="none" stroke-linejoin="round" stroke-linecap="round"/><path d="M585.0,607.0 C589.2,607.0 601.9,606.6 610.4,607.0 C618.9,607.4 628.3,608.6 635.9,609.6 C643.5,610.6 651.4,612.7 656.2,613.0 C661.0,613.3 661.6,612.8 664.7,611.3 C667.8,609.8 671.2,606.0 674.9,603.7 C678.6,601.4 681.9,599.1 686.7,597.7 C691.5,596.3 696.6,595.8 703.7,595.2 C710.8,594.6 721.4,595.0 729.1,594.3 C736.8,593.6 743.7,592.4 750.0,591.2 C756.3,590.0 763.3,588.5 767.0,587.0 C770.7,585.5 770.2,585.5 772.0,582.0 C773.8,578.5 775.9,564.6 777.6,566.3 C779.3,568.0 779.6,589.0 782.4,592.1 C785.2,595.2 789.6,585.9 794.4,585.2 C799.2,584.5 807.6,591.8 811.4,587.8 C815.2,583.8 815.0,560.1 817.0,561.2 C819.0,562.3 820.9,588.8 823.4,594.6 C825.9,600.5 828.8,596.9 831.9,596.3 C835.0,595.7 839.6,594.6 842.1,591.2 C844.6,587.8 845.0,574.7 846.7,576.0 C848.4,577.3 850.0,594.2 852.4,598.9 C854.8,603.6 857.2,602.9 860.9,604.0 C864.6,605.1 868.9,605.3 874.6,605.7 C880.3,606.1 888.1,605.0 895.0,606.6 C901.9,608.2 912.5,613.7 916.0,615.1" stroke="#000" stroke-width="1.9" fill="none" stroke-linejoin="round"/><line x1="846.7" y1="590" x2="846.7" y2="558.6" stroke="#000" stroke-width="1.6"/><line x1="874.6" y1="606" x2="874.6" y2="596.3" stroke="#000" stroke-width="1.6"/><line x1="880.6" y1="606" x2="880.6" y2="596.3" stroke="#000" stroke-width="1.6"/><path d="M585.0,558.1 C587.8,557.1 595.8,553.5 602.0,552.1 C608.2,550.7 615.2,549.7 622.3,549.6 C629.4,549.5 637.9,550.2 644.4,551.3 C650.9,552.4 656.5,555.0 661.3,556.4 C666.1,557.8 667.6,559.5 673.2,559.8 C678.9,560.1 689.0,558.7 695.2,558.1 C701.4,557.5 704.9,558.2 710.5,556.4 C716.1,554.5 722.5,549.5 729.1,547.0 C735.7,544.5 743.7,542.7 750.0,541.2 C756.3,539.7 761.3,539.4 767.0,537.8 C772.7,536.2 778.6,532.6 784.1,531.8 C789.6,530.9 797.1,534.8 800.3,532.7 C803.4,530.6 801.4,518.9 803.0,519.0 C804.6,519.1 806.3,529.8 809.7,533.5 C813.1,537.2 820.0,543.5 823.4,541.2 C826.8,539.0 828.2,519.3 830.2,520.0 C832.2,520.7 833.3,540.4 835.3,545.5 C837.3,550.6 839.8,550.0 842.1,550.6 C844.4,551.2 847.3,550.6 849.0,548.9 C850.7,547.2 851.3,541.0 852.4,540.4 C853.5,539.8 854.1,545.2 855.8,545.5 C857.5,545.8 858.0,541.8 862.6,542.1 C867.2,542.4 877.7,545.4 883.1,547.2 C888.5,549.1 889.5,550.7 895.0,553.2 C900.5,555.8 912.5,561.0 916.0,562.5" stroke="#6a30d0" stroke-width="4.2" fill="none" stroke-linejoin="round" stroke-linecap="round"/><line x1="859.2" y1="543" x2="859.2" y2="528.4" stroke="#6a30d0" stroke-width="3"/><path d="M585.0,556.4 C587.8,556.2 596.4,555.4 602.0,555.2 C607.6,555.1 611.8,555.2 618.9,555.5 C626.0,555.8 636.5,556.5 644.4,557.2 C652.3,557.9 659.3,559.1 666.4,559.8 C673.5,560.5 681.1,561.4 686.7,561.5 C692.4,561.6 696.0,561.6 700.3,560.6 C704.5,559.6 707.4,558.0 712.2,555.5 C717.0,553.0 722.8,548.2 729.1,545.3 C735.4,542.3 743.7,539.8 750.0,537.8 C756.3,535.8 761.3,534.9 767.0,533.5 C772.7,532.1 778.7,530.2 784.1,529.3 C789.5,528.4 796.4,530.3 799.5,528.1 C802.6,525.9 801.6,515.4 803.0,516.0 C804.4,516.6 805.5,528.0 808.0,531.8 C810.5,535.6 815.4,537.2 818.2,538.6 C821.1,540.0 823.2,542.1 825.1,540.4 C827.0,538.7 828.3,532.6 829.3,528.4 C830.3,524.2 830.0,513.0 831.0,515.0 C832.0,517.0 833.7,534.8 835.3,540.4 C836.9,546.0 838.3,547.2 840.4,548.9 C842.5,550.6 846.2,552.6 848.1,550.6 C850.0,548.6 850.5,537.5 851.5,536.9 C852.5,536.3 853.2,546.5 854.1,547.2 C855.0,547.9 855.2,542.3 856.6,541.2 C858.0,540.1 860.5,540.2 862.6,540.4 C864.7,540.5 866.0,540.7 869.4,542.1 C872.8,543.5 878.8,547.2 883.1,548.9 C887.4,550.6 889.5,550.6 895.0,552.3 C900.5,554.0 912.5,558.0 916.0,559.1" stroke="#000" stroke-width="1.9" fill="none" stroke-linejoin="round"/><line x1="857" y1="541" x2="857" y2="511.3" stroke="#000" stroke-width="1.6"/><line x1="883.1" y1="549" x2="883.1" y2="537" stroke="#000" stroke-width="1.6"/><path d="M585.0,505.7 C588.7,504.9 600.8,501.5 607.0,500.6 C613.2,499.8 617.5,500.2 622.3,500.6 C627.1,501.0 630.8,502.1 635.9,503.2 C641.0,504.3 648.8,506.7 652.8,507.4 C656.8,508.1 655.6,509.1 659.6,507.4 C663.6,505.7 671.0,499.5 676.6,497.2 C682.2,494.9 687.6,494.1 693.5,493.8 C699.4,493.5 705.4,495.4 712.2,495.5 C719.0,495.6 727.9,495.2 734.2,494.7 C740.5,494.2 744.5,493.8 750.0,492.3 C755.5,490.8 762.6,488.8 767.0,485.5 C771.4,482.2 774.1,472.0 776.4,472.7 C778.7,473.4 778.0,487.4 780.7,489.7 C783.4,492.0 787.6,486.6 792.7,486.3 C797.8,486.0 807.3,489.9 811.4,488.0 C815.5,486.1 815.4,474.6 817.4,475.2 C819.4,475.8 821.0,488.8 823.4,491.4 C825.8,494.0 828.8,490.0 831.9,490.6 C835.0,491.2 839.4,496.9 842.1,494.9 C844.8,492.9 846.4,478.0 848.1,478.6 C849.8,479.2 848.9,493.9 852.4,498.3 C855.9,502.7 862.3,503.7 869.4,505.0 C876.5,506.3 887.2,504.2 895.0,505.9 C902.8,507.6 912.5,513.7 916.0,515.3" stroke="#2e8fe8" stroke-width="4.2" fill="none" stroke-linejoin="round" stroke-linecap="round"/><line x1="883" y1="505" x2="883" y2="497" stroke="#2e8fe8" stroke-width="3"/><path d="M585.0,504.3 C589.2,504.3 601.9,503.9 610.4,504.3 C618.9,504.7 628.3,505.6 635.9,506.5 C643.5,507.4 651.4,509.8 656.2,509.9 C661.0,510.0 661.9,508.9 664.7,507.4 C667.5,505.8 669.5,502.6 673.2,500.6 C676.9,498.6 681.6,496.7 686.7,495.5 C691.8,494.3 696.6,494.1 703.7,493.5 C710.8,492.9 721.4,492.7 729.1,491.8 C736.8,490.9 744.2,489.3 750.0,488.0 C755.8,486.7 759.9,485.7 763.6,483.8 C767.3,481.9 769.9,480.2 772.2,476.9 C774.5,473.6 776.2,463.1 777.5,464.0 C778.8,464.9 778.9,477.7 779.9,482.0 C780.9,486.3 781.2,489.4 783.3,489.7 C785.4,490.0 789.7,484.9 792.7,483.8 C795.7,482.7 797.9,482.5 801.2,482.9 C804.5,483.3 809.8,489.5 812.3,486.3 C814.8,483.1 814.9,462.8 816.5,463.5 C818.1,464.2 820.0,485.4 821.7,490.6 C823.4,495.8 824.5,494.8 826.8,494.9 C829.1,495.0 832.8,492.5 835.3,491.4 C837.8,490.2 840.2,489.7 842.1,488.0 C844.0,486.3 845.2,481.6 846.4,481.2 C847.5,480.8 848.0,483.1 849.0,485.5 C850.0,487.9 850.4,493.1 852.4,495.7 C854.4,498.2 857.5,499.5 860.9,500.8 C864.3,502.1 867.1,502.8 872.8,503.4 C878.5,504.0 887.8,503.3 895.0,504.6 C902.2,505.9 912.5,509.9 916.0,511.0" stroke="#000" stroke-width="1.9" fill="none" stroke-linejoin="round"/><line x1="846.6" y1="485" x2="846.6" y2="456.3" stroke="#000" stroke-width="1.6"/><line x1="880.6" y1="503.5" x2="880.6" y2="494" stroke="#000" stroke-width="1.6"/><line x1="886.5" y1="504" x2="886.5" y2="494" stroke="#000" stroke-width="1.6"/><path d="M585.0,453.0 C588.7,451.9 601.3,447.6 607.0,446.3 C612.7,445.0 611.4,444.3 619.0,445.0 C626.6,445.7 644.3,449.7 652.8,450.5 C661.3,451.3 665.3,450.6 669.8,449.7 C674.3,448.8 677.2,447.4 680.0,445.0 C682.8,442.6 684.2,435.8 686.7,435.3 C689.2,434.8 689.5,439.9 695.2,442.0 C700.9,444.1 711.6,447.4 720.7,448.0 C729.8,448.6 741.7,447.1 750.0,445.6 C758.3,444.1 762.0,437.4 770.5,438.8 C779.0,440.2 792.7,450.3 801.2,454.1 C809.7,457.9 817.6,461.7 821.7,461.8 C825.8,461.9 824.7,458.3 826.0,455.0 C827.3,451.7 828.3,442.2 829.3,442.2 C830.3,442.2 831.0,451.9 832.0,455.0 C833.0,458.1 831.9,459.6 835.3,461.0 C838.7,462.4 843.9,463.5 852.4,463.5 C860.9,463.5 878.0,461.6 886.5,461.0 C895.0,460.4 900.3,463.5 903.6,460.1 C906.9,456.7 905.1,440.6 906.1,440.5 C907.1,440.4 908.2,455.2 909.5,459.2 C910.8,463.2 913.1,463.5 913.8,464.4" stroke="#1db34a" stroke-width="4.2" fill="none" stroke-linejoin="round" stroke-linecap="round"/><line x1="619.8" y1="446" x2="619.8" y2="418" stroke="#1db34a" stroke-width="3"/><line x1="863.5" y1="462" x2="863.5" y2="445" stroke="#1db34a" stroke-width="3"/><path d="M585.0,450.2 C587.8,450.0 596.8,449.3 602.0,448.8 C607.2,448.3 610.8,447.4 616.4,447.1 C622.0,446.8 629.8,447.0 635.9,447.1 C642.0,447.2 647.1,447.6 652.8,447.6 C658.4,447.6 665.3,447.9 669.8,447.1 C674.3,446.3 677.0,445.5 680.0,442.9 C683.0,440.3 685.4,431.8 687.6,431.5 C689.9,431.2 690.8,438.9 693.5,441.2 C696.2,443.5 699.2,444.6 703.7,445.4 C708.2,446.2 715.1,446.1 720.7,445.8 C726.4,445.5 732.7,444.4 737.6,443.7 C742.5,442.9 744.5,442.8 750.0,441.3 C755.5,439.8 766.2,435.4 770.5,434.5 C774.8,433.6 770.5,433.3 775.6,436.2 C780.7,439.1 793.5,447.6 801.2,451.6 C808.9,455.6 817.7,459.2 821.7,460.1 C825.7,461.0 823.7,460.3 825.0,457.0 C826.3,453.7 827.9,440.2 829.3,440.3 C830.7,440.4 832.0,454.1 833.6,457.5 C835.2,460.9 835.6,460.3 838.7,461.0 C841.8,461.7 848.4,461.9 852.4,461.8 C856.4,461.7 856.9,460.6 862.6,460.1 C868.3,459.6 879.7,459.1 886.5,458.9 C893.3,458.7 900.0,460.4 903.6,458.9 C907.2,457.4 906.7,453.8 908.0,450.0 C909.3,446.2 910.2,435.2 911.2,436.0 C912.2,436.8 913.3,450.8 914.0,455.0 C914.7,459.2 915.2,460.0 915.5,461.0" stroke="#000" stroke-width="1.9" fill="none" stroke-linejoin="round"/><line x1="616.6" y1="447" x2="616.6" y2="401.3" stroke="#000" stroke-width="1.6"/><line x1="694" y1="440" x2="694" y2="393" stroke="#000" stroke-width="1.6"/><line x1="864.7" y1="460" x2="864.7" y2="443" stroke="#000" stroke-width="1.6"/><line x1="846.4" y1="461" x2="846.4" y2="456.5" stroke="#000" stroke-width="1.6"/><line x1="756.8" y1="436" x2="756.8" y2="431" stroke="#000" stroke-width="1.6"/></g>
<path d="M585,390 L585,834.5 L916,834.5 L916,390" fill="none" stroke="#000" stroke-width="2"/>
<text x="564.29" y="837.20" font-size="26.38" fill="#000" textLength="15.37" lengthAdjust="spacingAndGlyphs">0</text>
<line x1="585" y1="760.7" x2="591" y2="760.7" stroke="#000" stroke-width="1.8"/>
<line x1="910" y1="760.7" x2="916" y2="760.7" stroke="#000" stroke-width="1.8"/>
<text x="550.28" y="769.90" font-size="26.38" fill="#000" textLength="29.37" lengthAdjust="spacingAndGlyphs">20</text>
<line x1="585" y1="693.4" x2="591" y2="693.4" stroke="#000" stroke-width="1.8"/>
<line x1="910" y1="693.4" x2="916" y2="693.4" stroke="#000" stroke-width="1.8"/>
<text x="551.02" y="702.60" font-size="26.38" fill="#000" textLength="28.60" lengthAdjust="spacingAndGlyphs">40</text>
<line x1="585" y1="626.1" x2="591" y2="626.1" stroke="#000" stroke-width="1.8"/>
<line x1="910" y1="626.1" x2="916" y2="626.1" stroke="#000" stroke-width="1.8"/>
<text x="550.28" y="635.30" font-size="26.38" fill="#000" textLength="29.37" lengthAdjust="spacingAndGlyphs">60</text>
<line x1="585" y1="558.8" x2="591" y2="558.8" stroke="#000" stroke-width="1.8"/>
<line x1="910" y1="558.8" x2="916" y2="558.8" stroke="#000" stroke-width="1.8"/>
<text x="550.49" y="568.00" font-size="26.38" fill="#000" textLength="29.16" lengthAdjust="spacingAndGlyphs">80</text>
<line x1="585" y1="491.5" x2="591" y2="491.5" stroke="#000" stroke-width="1.8"/>
<line x1="910" y1="491.5" x2="916" y2="491.5" stroke="#000" stroke-width="1.8"/>
<text x="535.94" y="500.70" font-size="26.38" fill="#000" textLength="43.67" lengthAdjust="spacingAndGlyphs">100</text>
<line x1="585" y1="424.2" x2="591" y2="424.2" stroke="#000" stroke-width="1.8"/>
<line x1="910" y1="424.2" x2="916" y2="424.2" stroke="#000" stroke-width="1.8"/>
<text x="535.94" y="433.40" font-size="26.38" fill="#000" textLength="43.67" lengthAdjust="spacingAndGlyphs">120</text>
<line x1="695.2" y1="391" x2="695.2" y2="397" stroke="#000" stroke-width="1.8"/>
<line x1="695.2" y1="828" x2="695.2" y2="834" stroke="#000" stroke-width="1.8"/>
<line x1="805.5" y1="391" x2="805.5" y2="397" stroke="#000" stroke-width="1.8"/>
<line x1="805.5" y1="828" x2="805.5" y2="834" stroke="#000" stroke-width="1.8"/>
<text x="569.17" y="861.20" font-size="26.67" fill="#000" textLength="35.64" lengthAdjust="spacingAndGlyphs">0.4</text>
<text x="668.94" y="861.20" font-size="26.67" fill="#000" textLength="51.56" lengthAdjust="spacingAndGlyphs">0.45</text>
<text x="786.16" y="861.20" font-size="26.67" fill="#000" textLength="35.98" lengthAdjust="spacingAndGlyphs">0.5</text>
<text x="889.44" y="861.20" font-size="26.67" fill="#000" textLength="51.56" lengthAdjust="spacingAndGlyphs">0.55</text>
<text x="694.37" y="892.00" font-size="29.09" fill="#000" textLength="110.56" lengthAdjust="spacingAndGlyphs">x = ωW/c</text>
<g transform="translate(526.5,836.5) rotate(-90)"><text x="-2.39" y="0.00" font-size="29.09" fill="#000" textLength="336.71" lengthAdjust="spacingAndGlyphs">Extinction cross section, σ</text></g>
<g transform="translate(526.5,836.5) rotate(-90)"><text x="335.01" y="5.50" font-size="16.59" fill="#000" textLength="21.74" lengthAdjust="spacingAndGlyphs">ext</text></g>
<g transform="translate(526.5,836.5) rotate(-90)"><text x="357.10" y="0.00" font-size="29.25" fill="#000" textLength="23.16" lengthAdjust="spacingAndGlyphs">/S</text></g>
<text x="934.04" y="438.60" font-size="34.60" fill="#000" textLength="16.00" lengthAdjust="spacingAndGlyphs">ε</text>
<text x="950.40" y="447.40" font-size="24.08" fill="#000" textLength="7.34" lengthAdjust="spacingAndGlyphs">f</text>
<text x="920.47" y="469.70" font-size="23.94" fill="#1db34a" textLength="50.23" lengthAdjust="spacingAndGlyphs">9.60</text>
<text x="920.41" y="522.60" font-size="24.66" fill="#2e8fe8" textLength="50.36" lengthAdjust="spacingAndGlyphs">2.65</text>
<text x="919.84" y="570.00" font-size="24.80" fill="#6a30d0" textLength="48.38" lengthAdjust="spacingAndGlyphs">1.91</text>
<text x="920.47" y="625.80" font-size="26.09" fill="#a8207a" textLength="47.79" lengthAdjust="spacingAndGlyphs">2.67</text>
<text x="920.40" y="676.00" font-size="25.95" fill="#d8601e" textLength="50.50" lengthAdjust="spacingAndGlyphs">2.19</text>
<text x="919.84" y="724.80" font-size="24.80" fill="#f0a814" textLength="48.38" lengthAdjust="spacingAndGlyphs">1.91</text>
<text x="919.74" y="773.50" font-size="23.94" fill="#e020e8" textLength="50.98" lengthAdjust="spacingAndGlyphs">1.60</text>
<text x="919.74" y="820.00" font-size="24.66" fill="#ff8010" textLength="50.98" lengthAdjust="spacingAndGlyphs">1.00</text>
<text x="622.87" y="414.30" font-size="20.36" fill="#1db34a" textLength="172.68" lengthAdjust="spacingAndGlyphs">ECCOSTOCK Powder</text>
<text x="682.79" y="487.90" font-size="22.21" fill="#2e8fe8" textLength="34.71" lengthAdjust="spacingAndGlyphs">salt</text>
<text x="674.07" y="543.50" font-size="23.32" fill="#6a30d0" textLength="56.90" lengthAdjust="spacingAndGlyphs">sugar</text>
<text x="654.89" y="586.70" font-size="22.40" fill="#a8207a" textLength="102.59" lengthAdjust="spacingAndGlyphs">PLA 100%</text>
<text x="660.00" y="640.50" font-size="22.40" fill="#d8601e" textLength="89.81" lengthAdjust="spacingAndGlyphs">PLA 75%</text>
<text x="660.00" y="691.80" font-size="22.40" fill="#f0a814" textLength="89.81" lengthAdjust="spacingAndGlyphs">PLA 50%</text>
<text x="660.00" y="750.80" font-size="22.40" fill="#e020e8" textLength="89.81" lengthAdjust="spacingAndGlyphs">PLA 25%</text>
<text x="690.81" y="803.70" font-size="20.97" fill="#ff8010" textLength="25.98" lengthAdjust="spacingAndGlyphs">air</text>
<defs><clipPath id="clipd"><rect x="93" y="559" width="371" height="276"/></clipPath></defs><g clip-path="url(#clipd)"><path d="M90.0,816.6 L96.4,816.7 L102.7,816.9 L109.1,817.0 L115.5,817.1 L121.9,817.3 L128.2,817.4 L134.6,817.5 L141.0,817.6 L147.4,817.7 L153.7,817.8 L160.1,817.9 L166.5,818.0 L172.8,818.1 L179.2,818.2 L185.6,818.3 L192.0,818.4 L198.3,818.4 L204.7,818.5 L211.1,818.6 L217.5,818.6 L223.8,818.7 L230.2,818.8 L236.6,818.8 L242.9,818.9 L249.3,818.9 L255.7,819.0 L262.1,819.0 L268.4,819.0 L274.8,819.1 L281.2,819.1 L287.6,819.1 L293.9,819.1 L300.3,819.1 L306.7,819.2 L313.1,819.2 L319.4,819.2 L325.8,819.2 L332.2,819.2 L338.5,819.2 L344.9,819.2 L351.3,819.2 L357.7,819.1 L364.0,819.1 L370.4,819.1 L376.8,819.1 L383.2,819.1 L389.5,819.0 L395.9,819.0 L402.3,819.0 L408.6,818.9 L415.0,818.9 L421.4,818.8 L427.8,818.8 L434.1,818.7 L440.5,818.7 L446.9,818.6 L453.3,818.6 L459.6,818.5 L466.0,818.5" stroke="#1a70c0" stroke-width="2.8" fill="none" stroke-dasharray="19 9.5"/><path d="M90.0,806.4 L96.4,807.2 L102.7,808.0 L109.1,808.7 L115.5,809.3 L121.9,810.0 L128.2,810.6 L134.6,811.2 L141.0,811.7 L147.4,812.2 L153.7,812.7 L160.1,813.1 L166.5,813.5 L172.8,813.9 L179.2,814.3 L185.6,814.6 L192.0,814.9 L198.3,815.2 L204.7,815.4 L211.1,815.7 L217.5,815.9 L223.8,816.1 L230.2,816.2 L236.6,816.4 L242.9,816.5 L249.3,816.6 L255.7,816.7 L262.1,816.8 L268.4,816.8 L274.8,816.9 L281.2,816.9 L287.6,816.9 L293.9,816.9 L300.3,816.9 L306.7,816.9 L313.1,816.9 L319.4,816.9 L325.8,816.8 L332.2,816.8 L338.5,816.7 L344.9,816.7 L351.3,816.6 L357.7,816.6 L364.0,816.5 L370.4,816.4 L376.8,816.4 L383.2,816.3 L389.5,816.2 L395.9,816.2 L402.3,816.1 L408.6,816.1 L415.0,816.0 L421.4,816.0 L427.8,816.0 L434.1,815.9 L440.5,815.9 L446.9,815.9 L453.3,815.9 L459.6,815.9 L466.0,816.0" stroke="#c82020" stroke-width="2.8" fill="none" stroke-dasharray="19 9.5"/><path d="M90.0,823.9 L96.4,822.1 L102.7,820.5 L109.1,819.2 L115.5,818.1 L121.9,817.2 L128.2,816.5 L134.6,816.0 L141.0,815.6 L147.4,815.4 L153.7,815.2 L160.1,815.2 L166.5,815.2 L172.8,815.3 L179.2,815.4 L185.6,815.5 L192.0,815.6 L198.3,815.7 L204.7,815.8 L211.1,815.9 L217.5,815.9 L223.8,816.0 L230.2,816.0 L236.6,816.0 L242.9,816.1 L249.3,816.1 L255.7,816.1 L262.1,816.0 L268.4,816.0 L274.8,816.0 L281.2,815.9 L287.6,815.9 L293.9,815.8 L300.3,815.8 L306.7,815.7 L313.1,815.6 L319.4,815.5 L325.8,815.4 L332.2,815.3 L338.5,815.2 L344.9,815.1 L351.3,815.0 L357.7,814.9 L364.0,814.8 L370.4,814.7 L376.8,814.6 L383.2,814.4 L389.5,814.3 L395.9,814.2 L402.3,814.1 L408.6,813.9 L415.0,813.8 L421.4,813.7 L427.8,813.6 L434.1,813.5 L440.5,813.4 L446.9,813.3 L453.3,813.1 L459.6,813.0 L466.0,812.9" stroke="#e070c8" stroke-width="2.8" fill="none" stroke-dasharray="19 9.5"/><path d="M90.0,776.5 L96.4,776.1 L102.7,777.0 L109.1,778.6 L115.5,780.7 L121.9,783.0 L128.2,785.2 L134.6,787.2 L141.0,789.1 L147.4,790.8 L153.7,792.4 L160.1,793.8 L166.5,795.2 L172.8,796.5 L179.2,797.7 L185.6,798.8 L192.0,799.8 L198.3,800.8 L204.7,801.7 L211.1,802.5 L217.5,803.2 L223.8,803.9 L230.2,804.5 L236.6,805.0 L242.9,805.5 L249.3,805.9 L255.7,806.3 L262.1,806.6 L268.4,806.9 L274.8,807.2 L281.2,807.4 L287.6,807.5 L293.9,807.6 L300.3,807.7 L306.7,807.8 L313.1,807.8 L319.4,807.8 L325.8,807.8 L332.2,807.8 L338.5,807.7 L344.9,807.6 L351.3,807.6 L357.7,807.5 L364.0,807.4 L370.4,807.3 L376.8,807.2 L383.2,807.1 L389.5,807.0 L395.9,806.9 L402.3,806.8 L408.6,806.8 L415.0,806.7 L421.4,806.7 L427.8,806.7 L434.1,806.7 L440.5,806.8 L446.9,806.8 L453.3,807.0 L459.6,807.1 L466.0,807.3" stroke="#ff7a10" stroke-width="2.8" fill="none" stroke-dasharray="19 9.5"/><path d="M90.0,802.8 L96.4,800.9 L102.7,799.1 L109.1,797.3 L115.5,795.5 L121.9,793.8 L128.2,792.2 L134.6,790.6 L141.0,789.0 L147.4,787.5 L153.7,786.0 L160.1,784.5 L166.5,783.1 L172.8,781.7 L179.2,780.4 L185.6,779.1 L192.0,777.8 L198.3,776.6 L204.7,775.4 L211.1,774.2 L217.5,773.0 L223.8,771.9 L230.2,770.8 L236.6,769.7 L242.9,768.7 L249.3,767.7 L255.7,766.7 L262.1,765.7 L268.4,764.7 L274.8,763.8 L281.2,762.9 L287.6,762.0 L293.9,761.1 L300.3,760.2 L306.7,759.4 L313.1,758.5 L319.4,757.7 L325.8,756.9 L332.2,756.1 L338.5,755.3 L344.9,754.5 L351.3,753.7 L357.7,752.9 L364.0,752.1 L370.4,751.4 L376.8,750.6 L383.2,749.8 L389.5,749.1 L395.9,748.3 L402.3,747.5 L408.6,746.8 L415.0,746.0 L421.4,745.2 L427.8,744.4 L434.1,743.6 L440.5,742.8 L446.9,742.0 L453.3,741.2 L459.6,740.4 L466.0,739.5" stroke="#ff7a10" stroke-width="2.8" fill="none"/><path d="M90.0,798.8 L96.4,796.7 L102.7,794.6 L109.1,792.4 L115.5,790.4 L121.9,788.3 L128.2,786.3 L134.6,784.3 L141.0,782.3 L147.4,780.3 L153.7,778.4 L160.1,776.5 L166.5,774.6 L172.8,772.8 L179.2,771.0 L185.6,769.2 L192.0,767.5 L198.3,765.8 L204.7,764.1 L211.1,762.4 L217.5,760.8 L223.8,759.3 L230.2,757.7 L236.6,756.2 L242.9,754.7 L249.3,753.3 L255.7,751.9 L262.1,750.6 L268.4,749.2 L274.8,748.0 L281.2,746.7 L287.6,745.5 L293.9,744.3 L300.3,743.1 L306.7,741.9 L313.1,740.8 L319.4,739.6 L325.8,738.5 L332.2,737.3 L338.5,736.1 L344.9,735.0 L351.3,733.9 L357.7,732.7 L364.0,731.6 L370.4,730.5 L376.8,729.3 L383.2,728.2 L389.5,727.2 L395.9,726.1 L402.3,725.1 L408.6,724.1 L415.0,723.2 L421.4,722.3 L427.8,721.4 L434.1,720.7 L440.5,719.9 L446.9,719.3 L453.3,718.7 L459.6,718.2 L466.0,717.8" stroke="#c82020" stroke-width="2.8" fill="none"/><path d="M90.0,796.8 L96.4,793.7 L102.7,790.6 L109.1,787.6 L115.5,784.7 L121.9,781.8 L128.2,778.9 L134.6,776.1 L141.0,773.3 L147.4,770.6 L153.7,768.0 L160.1,765.3 L166.5,762.8 L172.8,760.2 L179.2,757.8 L185.6,755.3 L192.0,752.9 L198.3,750.6 L204.7,748.3 L211.1,746.0 L217.5,743.8 L223.8,741.6 L230.2,739.5 L236.6,737.4 L242.9,735.3 L249.3,733.3 L255.7,731.3 L262.1,729.4 L268.4,727.4 L274.8,725.6 L281.2,723.7 L287.6,721.9 L293.9,720.1 L300.3,718.4 L306.7,716.7 L313.1,715.0 L319.4,713.4 L325.8,711.8 L332.2,710.2 L338.5,708.7 L344.9,707.2 L351.3,705.7 L357.7,704.3 L364.0,702.9 L370.4,701.5 L376.8,700.2 L383.2,698.9 L389.5,697.6 L395.9,696.3 L402.3,695.1 L408.6,694.0 L415.0,692.9 L421.4,691.8 L427.8,690.7 L434.1,689.8 L440.5,688.8 L446.9,687.9 L453.3,687.1 L459.6,686.3 L466.0,685.6" stroke="#2a9a2a" stroke-width="2.8" fill="none"/><path d="M90.0,810.7 L96.4,806.3 L102.7,801.6 L109.1,796.6 L115.5,791.4 L121.9,786.1 L128.2,780.6 L134.6,775.2 L141.0,769.8 L147.4,764.5 L153.7,759.4 L160.1,754.5 L166.5,749.7 L172.8,745.2 L179.2,740.8 L185.6,736.5 L192.0,732.4 L198.3,728.5 L204.7,724.7 L211.1,721.0 L217.5,717.5 L223.8,714.0 L230.2,710.7 L236.6,707.5 L242.9,704.4 L249.3,701.3 L255.7,698.3 L262.1,695.4 L268.4,692.6 L274.8,689.8 L281.2,687.1 L287.6,684.5 L293.9,682.0 L300.3,679.5 L306.7,677.1 L313.1,674.8 L319.4,672.6 L325.8,670.4 L332.2,668.3 L338.5,666.3 L344.9,664.4 L351.3,662.5 L357.7,660.8 L364.0,659.1 L370.4,657.5 L376.8,655.9 L383.2,654.5 L389.5,653.1 L395.9,651.9 L402.3,650.7 L408.6,649.5 L415.0,648.5 L421.4,647.6 L427.8,646.7 L434.1,645.9 L440.5,645.3 L446.9,644.7 L453.3,644.1 L459.6,643.7 L466.0,643.4" stroke="#1a1af0" stroke-width="2.8" fill="none"/><path d="M90.0,725.5 L96.4,721.6 L102.7,717.6 L109.1,713.4 L115.5,709.1 L121.9,704.4 L128.2,699.4 L134.6,694.0 L141.0,688.4 L147.4,682.7 L153.7,677.0 L160.1,671.4 L166.5,665.9 L172.8,660.5 L179.2,655.3 L185.6,650.2 L192.0,645.3 L198.3,640.5 L204.7,635.9 L211.1,631.4 L217.5,627.2 L223.8,623.1 L230.2,619.2 L236.6,615.5 L242.9,612.0 L249.3,608.7 L255.7,605.6 L262.1,602.6 L268.4,599.9 L274.8,597.3 L281.2,594.8 L287.6,592.6 L293.9,590.4 L300.3,588.5 L306.7,586.6 L313.1,584.9 L319.4,583.4 L325.8,581.9 L332.2,580.6 L338.5,579.4 L344.9,578.3 L351.3,577.3 L357.7,576.4 L364.0,575.6 L370.4,574.8 L376.8,574.2 L383.2,573.6 L389.5,573.1 L395.9,572.6 L402.3,572.2 L408.6,571.9 L415.0,571.6 L421.4,571.3 L427.8,571.1 L434.1,570.9 L440.5,570.7 L446.9,570.5 L453.3,570.3 L459.6,570.2 L466.0,570.0" stroke="#e070c8" stroke-width="2.8" fill="none"/></g>
<rect x="92" y="558" width="373" height="277.5" fill="none" stroke="#000" stroke-width="2"/>
<line x1="92" y1="748.6" x2="98" y2="748.6" stroke="#000" stroke-width="1.8"/>
<line x1="459" y1="748.6" x2="465" y2="748.6" stroke="#000" stroke-width="1.8"/>
<line x1="92" y1="662.2" x2="98" y2="662.2" stroke="#000" stroke-width="1.8"/>
<line x1="459" y1="662.2" x2="465" y2="662.2" stroke="#000" stroke-width="1.8"/>
<line x1="92" y1="575.8" x2="98" y2="575.8" stroke="#000" stroke-width="1.8"/>
<line x1="459" y1="575.8" x2="465" y2="575.8" stroke="#000" stroke-width="1.8"/>
<line x1="131.0" y1="559" x2="131.0" y2="565" stroke="#000" stroke-width="1.8"/>
<line x1="131.0" y1="829" x2="131.0" y2="835" stroke="#000" stroke-width="1.8"/>
<line x1="214.5" y1="559" x2="214.5" y2="565" stroke="#000" stroke-width="1.8"/>
<line x1="214.5" y1="829" x2="214.5" y2="835" stroke="#000" stroke-width="1.8"/>
<line x1="298.0" y1="559" x2="298.0" y2="565" stroke="#000" stroke-width="1.8"/>
<line x1="298.0" y1="829" x2="298.0" y2="835" stroke="#000" stroke-width="1.8"/>
<line x1="381.6" y1="559" x2="381.6" y2="565" stroke="#000" stroke-width="1.8"/>
<line x1="381.6" y1="829" x2="381.6" y2="835" stroke="#000" stroke-width="1.8"/>
<text x="50.17" y="585.30" font-size="27.24" fill="#000" textLength="35.83" lengthAdjust="spacingAndGlyphs">0.3</text>
<text x="50.16" y="671.70" font-size="27.24" fill="#000" textLength="36.04" lengthAdjust="spacingAndGlyphs">0.2</text>
<text x="50.17" y="758.10" font-size="27.24" fill="#000" textLength="35.97" lengthAdjust="spacingAndGlyphs">0.1</text>
<text x="71.46" y="842.00" font-size="27.24" fill="#000" textLength="14.44" lengthAdjust="spacingAndGlyphs">0</text>
<text x="123.41" y="861.30" font-size="26.67" fill="#000" textLength="14.30" lengthAdjust="spacingAndGlyphs">2</text>
<text x="206.00" y="861.30" font-size="26.67" fill="#000" textLength="14.76" lengthAdjust="spacingAndGlyphs">4</text>
<text x="289.64" y="861.30" font-size="26.67" fill="#000" textLength="15.15" lengthAdjust="spacingAndGlyphs">6</text>
<text x="373.06" y="861.30" font-size="26.67" fill="#000" textLength="14.91" lengthAdjust="spacingAndGlyphs">8</text>
<text x="452.31" y="861.30" font-size="26.67" fill="#000" textLength="27.99" lengthAdjust="spacingAndGlyphs">10</text>
<text x="144.58" y="884.90" font-size="28.36" fill="#000" textLength="270.23" lengthAdjust="spacingAndGlyphs">Dielectric permitivity ε</text>
<text x="414.79" y="894.20" font-size="23.81" fill="#000" textLength="7.55" lengthAdjust="spacingAndGlyphs">f</text>
<g transform="translate(33.1,832.2) rotate(-90)"><text x="-1.15" y="0.00" font-size="28.82" fill="#000" textLength="238.20" lengthAdjust="spacingAndGlyphs">Sensitivity, (GHz RIU</text></g>
<g transform="translate(33.1,832.2) rotate(-90)"><text x="235.32" y="-14.10" font-size="16.00" fill="#000" textLength="13.42" lengthAdjust="spacingAndGlyphs">-1</text></g>
<g transform="translate(33.1,832.2) rotate(-90)"><text x="248.74" y="3.00" font-size="33.10" fill="#000" textLength="11.42" lengthAdjust="spacingAndGlyphs">)</text></g>
<defs><linearGradient id="side" gradientUnits="userSpaceOnUse" x1="135" y1="0" x2="390" y2="0"><stop offset="0" stop-color="#6e5030"/><stop offset="0.06" stop-color="#9a7a48"/><stop offset="0.2" stop-color="#c8aa6c"/><stop offset="0.45" stop-color="#dcc282"/><stop offset="0.7" stop-color="#d8bc7a"/><stop offset="0.9" stop-color="#c8a866"/><stop offset="1" stop-color="#a88a50"/></linearGradient><linearGradient id="rim" gradientUnits="userSpaceOnUse" x1="0" y1="37" x2="0" y2="139"><stop offset="0" stop-color="#e8d292"/><stop offset="0.6" stop-color="#f0dea8"/><stop offset="1" stop-color="#f6e8c0"/></linearGradient><linearGradient id="liq" gradientUnits="userSpaceOnUse" x1="0" y1="46" x2="0" y2="126"><stop offset="0" stop-color="#c0dde8"/><stop offset="0.5" stop-color="#b4d8e6"/><stop offset="1" stop-color="#a8ccd8"/></linearGradient><marker id="ah" markerWidth="10" markerHeight="10" refX="9" refY="5" orient="auto" markerUnits="userSpaceOnUse"><path d="M0,0 L10,5 L0,10 L3,5Z" fill="#000"/></marker></defs>
<path d="M135.20000000000002,87.8 L136.20000000000002,149 A126.4,50.6 0 0 0 389.0,149 L390.0,87.8 Z" fill="url(#side)" stroke="#2a2010" stroke-width="1"/>
<ellipse cx="262.6" cy="87.8" rx="127.4" ry="50.6" fill="url(#rim)" stroke="#1a1208" stroke-width="1.2"/>
<ellipse cx="262.7" cy="86.2" rx="101" ry="40" fill="url(#liq)" stroke="#1a1a1a" stroke-width="1.1"/>
<path d="M175,110 Q262,90 352,108 Q320,124 262,126.2 Q205,124 175,110Z" fill="#a6c8d6" opacity="0.5"/>
<line x1="352" y1="58" x2="352" y2="118" stroke="#90b0c0" stroke-width="0.8"/>
<line x1="262.5" y1="87.4" x2="372" y2="87.4" stroke="#000" stroke-width="1.9"/>
<path d="M389.9,87.6 L369,79.1 L373.3,87.6 L369,96.7Z" fill="#000"/>
<line x1="262.5" y1="87.4" x2="305" y2="108" stroke="#000" stroke-width="1.9"/>
<path d="M318.6,114.9 L296,113 L302,106 L298,99Z" fill="#000"/>
<line x1="140" y1="86.5" x2="158" y2="86.5" stroke="#000" stroke-width="1"/>
<path d="M135.2,86.5 L145,82 L143,86.5 L145,91Z M163.6,86.5 L153.8,82 L155.8,86.5 L153.8,91Z" fill="#000"/>
<line x1="128.9" y1="98" x2="129.8" y2="148" stroke="#000" stroke-width="1.1"/>
<path d="M128.7,91.4 L133.6,101 L129,99 L124.4,101Z M129.9,155.2 L125.3,145.5 L129.8,147.5 L134.5,145.5Z" fill="#000"/>
<text x="135.66" y="73.20" font-size="27.20" fill="#000" textLength="26.15" lengthAdjust="spacingAndGlyphs">W</text>
<text x="102.30" y="134.00" font-size="30.62" fill="#000" textLength="18.27" lengthAdjust="spacingAndGlyphs">h</text>
<text x="209.14" y="98.00" font-size="38.70" fill="#000" textLength="17.38" lengthAdjust="spacingAndGlyphs">ε</text>
<text x="227.61" y="106.70" font-size="23.39" fill="#000" textLength="7.23" lengthAdjust="spacingAndGlyphs">f</text>
<text x="286.25" y="81.80" font-size="27.20" fill="#000" textLength="17.92" lengthAdjust="spacingAndGlyphs">R</text>
<text x="302.61" y="84.80" font-size="20.62" fill="#000" textLength="29.05" lengthAdjust="spacingAndGlyphs">out</text>
<text x="257.55" y="116.30" font-size="27.20" fill="#000" textLength="17.92" lengthAdjust="spacingAndGlyphs">R</text>
<text x="273.45" y="122.00" font-size="22.07" fill="#000" textLength="17.86" lengthAdjust="spacingAndGlyphs">in</text>
<text x="235.43" y="180.00" font-size="36.28" fill="#000" textLength="17.49" lengthAdjust="spacingAndGlyphs">ε</text>
<line x1="72.8" y1="230" x2="72.8" y2="192" stroke="#000" stroke-width="2.6"/>
<path d="M72.8,180.7 L78.5,194 L67,194Z" fill="#000"/>
<line x1="72.8" y1="229.4" x2="104" y2="246.5" stroke="#1a4ae0" stroke-width="3.4"/>
<path d="M112,250.6 L98.5,250 L104,240Z" fill="#1a4ae0"/>
<path d="M74.0,229.5 L74.4,229.2 L74.8,228.7 L75.1,228.2 L75.4,227.6 L75.6,227.0 L75.8,226.4 L76.1,225.8 L76.3,225.2 L76.6,224.7 L77.0,224.2 L77.4,223.9 L77.9,223.7 L78.5,223.6 L79.2,223.7 L80.0,223.9 L80.9,224.3 L81.8,224.7 L82.8,225.3 L83.8,225.9 L84.9,226.4 L85.9,227.0 L86.9,227.5 L87.8,227.9 L88.6,228.1 L89.1,228.0 L89.5,227.6 L89.7,227.0 L89.8,226.2 L89.9,225.2 L89.8,224.1 L89.6,222.8 L89.4,221.5 L89.1,220.1 L88.8,218.7 L88.6,217.3 L88.3,216.0 L88.2,214.8 L88.1,213.8 L88.2,212.8 L88.3,212.1 L88.6,211.6 L89.1,211.2 L89.6,211.1 L90.3,211.2 L91.1,211.5 L92.1,211.9 L93.1,212.5 L94.2,213.1 L95.3,213.9 L96.5,214.7 L97.7,215.5 L98.8,216.3 L99.9,217.0 L100.9,217.5 L101.9,218.0 L102.7,218.2 L103.4,218.3 L103.9,218.2 L104.4,217.8 L104.7,217.3 L104.8,216.6 L104.9,215.7 L104.8,214.6 L104.7,213.4 L104.4,212.1 L104.2,210.7 L103.9,209.3 L103.6,207.9 L103.4,206.6 L103.2,205.4 L103.1,204.2 L103.2,203.3 L103.3,202.5 L103.5,201.9 L103.9,201.5 L104.4,201.3 L105.1,201.3 L105.9,201.5 L106.7,201.9 L107.7,202.4 L108.8,203.0 L109.9,203.8 L111.1,204.6 L112.3,205.4 L113.4,206.2 L114.6,206.9 L115.6,207.5 L116.6,208.0 L117.4,208.3 L118.2,208.4 L118.8,208.4 L119.2,208.1 L119.6,207.7 L119.8,207.0 L119.9,206.1 L119.8,205.1 L119.7,203.9 L119.5,202.7 L119.3,201.3 L119.0,199.9 L118.7,198.5 L118.5,197.2 L118.3,195.9 L118.2,194.7 L118.1,193.7 L118.2,192.8 L118.4,192.2 L118.8,191.7 L119.2,191.5 L119.8,191.4 L120.6,191.5 L121.4,191.9 L122.4,192.3 L123.4,193.0 L124.6,193.7 L125.7,194.5 L126.9,195.3 L128.1,196.0 L129.2,196.8 L130.3,197.4 L136.0,191.5" stroke="#e81010" stroke-width="2.9" fill="none" stroke-linejoin="round"/>
<path d="M148.5,187.1 L133,188.5 L137,192 L138.5,199.5Z" fill="#e81010"/>
<text x="43.90" y="191.30" font-size="30.98" fill="#000" textLength="21.89" lengthAdjust="spacingAndGlyphs">H</text>
<text x="118.57" y="260.10" font-size="32.29" fill="#1a4ae0" textLength="15.61" lengthAdjust="spacingAndGlyphs">E</text>
<text x="153.52" y="209.30" font-size="30.76" fill="#e81010" textLength="14.68" lengthAdjust="spacingAndGlyphs">k</text>
<defs><linearGradient id="ecbar" x1="0" x2="1" y1="0" y2="0"><stop offset="0" stop-color="#3a2090"/><stop offset="0.25" stop-color="#3840d0"/><stop offset="0.4" stop-color="#40a0f0"/><stop offset="0.5" stop-color="#ffffff"/><stop offset="0.6" stop-color="#f0b0c8"/><stop offset="0.75" stop-color="#e04050"/><stop offset="0.87" stop-color="#b01828"/><stop offset="1" stop-color="#701020"/></linearGradient><radialGradient id="inr" cx="0.5" cy="0.55" r="0.5"><stop offset="0" stop-color="#38148a"/><stop offset="0.5" stop-color="#3a1c96"/><stop offset="0.8" stop-color="#2e34c4"/><stop offset="0.95" stop-color="#3a70e0"/><stop offset="1" stop-color="#60a8f0"/></radialGradient><radialGradient id="ina" cx="0.5" cy="0.55" r="0.5"><stop offset="0" stop-color="#34148a"/><stop offset="0.6" stop-color="#341a98"/><stop offset="0.9" stop-color="#2a30c0"/><stop offset="0.975" stop-color="#3a70e0"/><stop offset="1" stop-color="#b0e0ff"/></radialGradient><radialGradient id="blobP"><stop offset="0" stop-color="#f0b0cc"/><stop offset="0.22" stop-color="#f8d4e4"/><stop offset="0.42" stop-color="#f4f8ff"/><stop offset="0.62" stop-color="#80c8f8"/><stop offset="0.82" stop-color="#3a58e0" stop-opacity="0.6"/><stop offset="1" stop-color="#3040d0" stop-opacity="0"/></radialGradient><radialGradient id="blobR"><stop offset="0" stop-color="#d83040"/><stop offset="0.4" stop-color="#e86070"/><stop offset="0.62" stop-color="#fce0e8"/><stop offset="0.75" stop-color="#a8dcff"/><stop offset="0.88" stop-color="#3a70e8" stop-opacity="0.7"/><stop offset="1" stop-color="#3040d0" stop-opacity="0"/></radialGradient><linearGradient id="sideA" gradientUnits="userSpaceOnUse" x1="0" y1="377" x2="0" y2="459"><stop offset="0" stop-color="#3a30c0"/><stop offset="0.5" stop-color="#3028b0"/><stop offset="1" stop-color="#3a40d0"/></linearGradient><clipPath id="csR"><path d="M57.2,379.2 L57.5,414 A89,44.8 0 0 0 235.7,414 L236,379.2 A89.4,44.7 0 0 1 57.2,379.2Z"/></clipPath><clipPath id="crR"><path d="M57.2,379.2 A89.4,44.7 0 1 1 236,379.2 A89.4,44.7 0 1 1 57.2,379.2Z M73.6,378.1 A73,36.5 0 1 0 219.6,378.1 A73,36.5 0 1 0 73.6,378.1Z" clip-rule="evenodd"/></clipPath><clipPath id="ciR"><ellipse cx="146.6" cy="378.1" rx="73" ry="36.5"/></clipPath><clipPath id="csA"><path d="M290.6,377.1 L291,414 A89.5,44.8 0 0 0 470,414 L470.5,377.1 A90,44.7 0 0 1 290.6,377.1Z"/></clipPath><clipPath id="crA"><path d="M290.6,377.1 A90,44.7 0 1 1 470.5,377.1 A90,44.7 0 1 1 290.6,377.1Z M308,377.1 A73,36.5 0 1 0 454,377.1 A73,36.5 0 1 0 308,377.1Z" clip-rule="evenodd"/></clipPath></defs>
<path d="M57.2,379.2 L57.5,414 A89,44.8 0 0 0 235.7,414 L236,379.2Z" fill="#34209c"/>
<g clip-path="url(#csR)"><ellipse cx="68" cy="428" rx="22" ry="30" fill="url(#blobP)"/><ellipse cx="132" cy="443" rx="30" ry="28" fill="url(#blobP)"/><ellipse cx="203" cy="432" rx="24" ry="30" fill="url(#blobP)"/><ellipse cx="242" cy="405" rx="16" ry="28" fill="url(#blobP)"/><path d="M57,395 L236,395" stroke="#3a40c8" stroke-width="6" opacity="0.5" filter="url(#bl2)"/></g>
<g clip-path="url(#crR)"><ellipse cx="146.6" cy="379.2" rx="89.4" ry="44.7" fill="#30189a"/><ellipse cx="146.6" cy="379.2" rx="86" ry="42" fill="none" stroke="#3a50e0" stroke-width="5" filter="url(#bl2)"/><ellipse cx="146.6" cy="378.6" rx="75" ry="37.5" fill="none" stroke="#2a1478" stroke-width="4" filter="url(#bl1)"/><path d="M60,370 Q70,345 100,340" stroke="#4a70f0" stroke-width="5" fill="none" filter="url(#bl2)"/></g>
<ellipse cx="146.6" cy="378.1" rx="73" ry="36.5" fill="url(#inr)"/>
<g clip-path="url(#ciR)" opacity="0.95"><ellipse cx="80" cy="388" rx="7" ry="12" fill="#f0f8ff" filter="url(#bl4)"/><ellipse cx="128" cy="413" rx="22" ry="5" fill="#f0f8ff" filter="url(#bl4)"/><ellipse cx="175" cy="412" rx="16" ry="4" fill="#f0f8ff" filter="url(#bl4)"/><ellipse cx="214" cy="372" rx="6" ry="12" fill="#f0f8ff" filter="url(#bl4)"/><ellipse cx="120" cy="343" rx="22" ry="4" fill="#f0f8ff" filter="url(#bl4)"/><ellipse cx="185" cy="346" rx="16" ry="4" fill="#f0f8ff" filter="url(#bl4)"/><ellipse cx="86" cy="360" rx="5" ry="6" fill="#f0f8ff" filter="url(#bl4)"/></g>
<ellipse cx="146.6" cy="378.1" rx="73" ry="36.5" fill="none" stroke="#101030" stroke-width="0.8"/>
<path d="M57.2,379.2 L57.5,414 A89,44.8 0 0 0 235.7,414 L236,379.2 A89.4,44.7 0 0 0 57.2,379.2 A89.4,44.7 0 0 1 236,379.2" fill="none" stroke="#101030" stroke-width="0.8"/>
<line x1="72.6" y1="407" x2="72.6" y2="437" stroke="#101030" stroke-width="0.8"/>
<line x1="203.1" y1="415" x2="203.1" y2="447" stroke="#101030" stroke-width="0.8"/>
<path d="M290.6,377.1 L291,414 A89.5,44.8 0 0 0 470,414 L470.5,377.1Z" fill="url(#sideA)"/>
<g clip-path="url(#csA)"><path d="M288.0,385.2 L291.1,390.1 L294.2,397.0 L297.3,401.0 L300.4,403.8 L303.5,406.1 L306.6,407.9 L309.7,409.4 L312.8,410.6 L315.9,411.7 L319.0,412.8 L322.1,413.8 L325.2,414.9 L328.3,416.0 L331.4,417.1 L334.5,418.3 L337.6,419.4 L340.7,420.6 L343.8,421.6 L346.9,422.5 L350.0,423.2 L353.1,423.8 L356.2,424.2 L359.3,424.3 L362.4,424.3 L365.5,424.2 L368.6,424.0 L371.7,423.8 L374.8,423.6 L377.9,423.4 L381.0,423.3 L384.1,423.3 L387.2,423.4 L390.3,423.6 L393.4,423.8 L396.5,424.0 L399.6,424.1 L402.7,424.1 L405.8,424.0 L408.9,423.6 L412.0,423.1 L415.1,422.4 L418.2,421.6 L421.3,420.5 L424.4,419.4 L427.5,418.2 L430.6,416.9 L433.7,415.7 L436.8,414.5 L439.9,413.4 L443.0,412.2 L446.1,411.1 L449.2,409.9 L452.3,408.6 L455.4,407.1 L458.5,405.2 L461.6,402.9 L464.7,399.8 L467.8,395.4 L470.9,385.6 L474.0,385.3" stroke="#d8ecff" stroke-width="2.5" opacity="0.7" fill="none" filter="url(#bl1)"/><path d="M288.0,392.2 L291.1,396.7 L294.2,403.3 L297.3,406.9 L300.4,409.5 L303.5,411.5 L306.6,413.2 L309.7,414.8 L312.8,416.2 L315.9,417.7 L319.0,419.1 L322.1,420.5 L325.2,421.9 L328.3,423.3 L331.4,424.7 L334.5,425.9 L337.6,427.0 L340.7,428.0 L343.8,428.7 L346.9,429.3 L350.0,429.6 L353.1,429.8 L356.2,429.8 L359.3,429.8 L362.4,429.7 L365.5,429.6 L368.6,429.6 L371.7,429.6 L374.8,429.8 L377.9,430.0 L381.0,430.3 L384.1,430.6 L387.2,430.9 L390.3,431.2 L393.4,431.4 L396.5,431.4 L399.6,431.3 L402.7,430.9 L405.8,430.4 L408.9,429.7 L412.0,428.9 L415.1,427.9 L418.2,426.9 L421.3,425.9 L424.4,424.9 L427.5,423.9 L430.6,423.0 L433.7,422.2 L436.8,421.4 L439.9,420.6 L443.0,419.7 L446.1,418.7 L449.2,417.6 L452.3,416.1 L455.4,414.3 L458.5,412.1 L461.6,409.4 L464.7,406.0 L467.8,401.2 L470.9,391.1 L474.0,390.7" stroke="#4a70e8" stroke-width="4" opacity="0.7" fill="none" filter="url(#bl1)"/><path d="M288.0,400.6 L291.1,404.9 L294.2,411.2 L297.3,414.7 L300.4,417.4 L303.5,419.6 L306.6,421.6 L309.7,423.5 L312.8,425.4 L315.9,427.2 L319.0,428.9 L322.1,430.5 L325.2,432.1 L328.3,433.4 L331.4,434.6 L334.5,435.6 L337.6,436.3 L340.7,436.9 L343.8,437.2 L346.9,437.5 L350.0,437.6 L353.1,437.6 L356.2,437.7 L359.3,437.8 L362.4,438.0 L365.5,438.3 L368.6,438.6 L371.7,439.1 L374.8,439.5 L377.9,440.0 L381.0,440.4 L384.1,440.7 L387.2,440.9 L390.3,440.9 L393.4,440.8 L396.5,440.4 L399.6,439.9 L402.7,439.2 L405.8,438.4 L408.9,437.6 L412.0,436.7 L415.1,435.9 L418.2,435.2 L421.3,434.5 L424.4,433.8 L427.5,433.3 L430.6,432.7 L433.7,432.2 L436.8,431.5 L439.9,430.7 L443.0,429.8 L446.1,428.5 L449.2,427.0 L452.3,425.2 L455.4,423.0 L458.5,420.5 L461.6,417.5 L464.7,413.9 L467.8,409.1 L470.9,399.0 L474.0,398.9" stroke="#2a1c98" stroke-width="5" opacity="0.8" fill="none" filter="url(#bl1)"/><path d="M288.0,407.5 L291.1,411.8 L294.2,418.3 L297.3,422.1 L300.4,425.1 L303.5,427.7 L306.6,430.1 L309.7,432.4 L312.8,434.4 L315.9,436.3 L319.0,438.0 L322.1,439.5 L325.2,440.7 L328.3,441.8 L331.4,442.5 L334.5,443.1 L337.6,443.6 L340.7,443.9 L343.8,444.1 L346.9,444.3 L350.0,444.6 L353.1,444.9 L356.2,445.3 L359.3,445.8 L362.4,446.4 L365.5,447.0 L368.6,447.6 L371.7,448.2 L374.8,448.7 L377.9,449.0 L381.0,449.2 L384.1,449.2 L387.2,449.0 L390.3,448.6 L393.4,448.1 L396.5,447.4 L399.6,446.8 L402.7,446.1 L405.8,445.4 L408.9,444.8 L412.0,444.3 L415.1,443.8 L418.2,443.5 L421.3,443.1 L424.4,442.8 L427.5,442.4 L430.6,441.9 L433.7,441.2 L436.8,440.4 L439.9,439.2 L443.0,437.9 L446.1,436.3 L449.2,434.4 L452.3,432.3 L455.4,429.9 L458.5,427.3 L461.6,424.4 L464.7,421.0 L467.8,416.5 L470.9,406.9 L474.0,407.1" stroke="#4a70e8" stroke-width="4" opacity="0.6" fill="none" filter="url(#bl1)"/><path d="M288.0,415.8 L291.1,420.4 L294.2,427.3 L297.3,431.5 L300.4,434.9 L303.5,437.7 L306.6,440.3 L309.7,442.5 L312.8,444.4 L315.9,446.0 L319.0,447.4 L322.1,448.5 L325.2,449.3 L328.3,450.0 L331.4,450.5 L334.5,451.0 L337.6,451.4 L340.7,451.9 L343.8,452.3 L346.9,452.9 L350.0,453.6 L353.1,454.3 L356.2,455.0 L359.3,455.8 L362.4,456.5 L365.5,457.1 L368.6,457.6 L371.7,458.0 L374.8,458.1 L377.9,458.1 L381.0,457.9 L384.1,457.5 L387.2,457.0 L390.3,456.5 L393.4,455.9 L396.5,455.4 L399.6,454.9 L402.7,454.6 L405.8,454.3 L408.9,454.1 L412.0,453.9 L415.1,453.8 L418.2,453.6 L421.3,453.3 L424.4,452.9 L427.5,452.2 L430.6,451.4 L433.7,450.4 L436.8,449.1 L439.9,447.7 L443.0,446.0 L446.1,444.2 L449.2,442.3 L452.3,440.2 L455.4,438.1 L458.5,435.8 L461.6,433.2 L464.7,430.2 L467.8,426.1 L470.9,416.7 L474.0,417.1" stroke="#a8d8ff" stroke-width="3" opacity="0.7" fill="none" filter="url(#bl1)"/></g>
<g clip-path="url(#crA)"><ellipse cx="380.5" cy="377.1" rx="90" ry="44.7" fill="#2a1e9c"/><ellipse cx="380.5" cy="377.1" rx="82" ry="41" fill="none" stroke="#3a38c0" stroke-width="8" filter="url(#bl2)"/><ellipse cx="0" cy="0" rx="22" ry="12" fill="url(#blobR)" transform="translate(331.7,337) rotate(-16.7)"/><ellipse cx="0" cy="0" rx="22" ry="12" fill="url(#blobR)" transform="translate(392.3,335.5) rotate(4.0)"/><ellipse cx="0" cy="0" rx="22" ry="12" fill="url(#blobR)" transform="translate(444.7,351) rotate(31.2)"/><ellipse cx="0" cy="0" rx="22" ry="12" fill="url(#blobR)" transform="translate(463.2,381) rotate(100.8)"/><ellipse cx="0" cy="0" rx="22" ry="12" fill="url(#blobR)" transform="translate(432.4,410.5) rotate(159.0)"/><ellipse cx="0" cy="0" rx="22" ry="12" fill="url(#blobR)" transform="translate(366.6,418.5) rotate(-175.3)"/><ellipse cx="0" cy="0" rx="22" ry="12" fill="url(#blobR)" transform="translate(311.1,401.3) rotate(-144.7)"/><ellipse cx="0" cy="0" rx="22" ry="12" fill="url(#blobR)" transform="translate(298.8,368.4) rotate(-66.7)"/></g>
<ellipse cx="381" cy="377.1" rx="73" ry="36.5" fill="url(#ina)"/>
<ellipse cx="381" cy="377.1" rx="73" ry="36.5" fill="none" stroke="#101030" stroke-width="0.8"/>
<path d="M290.6,377.1 L291,414 A89.5,44.8 0 0 0 470,414 L470.5,377.1 A90,44.7 0 0 0 290.6,377.1 A90,44.7 0 0 1 470.5,377.1" fill="none" stroke="#101030" stroke-width="0.8"/>
<line x1="307" y1="403" x2="307" y2="438" stroke="#101030" stroke-width="0.8"/>
<line x1="437.5" y1="413" x2="437.5" y2="448" stroke="#101030" stroke-width="0.8"/>
<text x="62.20" y="313.90" font-size="25.45" fill="#000" textLength="161.53" lengthAdjust="spacingAndGlyphs">Radial gallery</text>
<text x="304.83" y="315.00" font-size="27.05" fill="#000" textLength="144.00" lengthAdjust="spacingAndGlyphs">Axial gallery</text>
<rect x="165.4" y="474.2" width="200.2" height="11.3" fill="url(#ecbar)" stroke="#000" stroke-width="1.3"/>
<text x="161.75" y="513.20" font-size="28.82" fill="#000" textLength="17.35" lengthAdjust="spacingAndGlyphs">0</text>
<text x="254.95" y="517.40" font-size="28.51" fill="#000" font-weight="bold" textLength="20.25" lengthAdjust="spacingAndGlyphs">E</text>
<rect x="252" y="493" width="1.8" height="26" fill="#000"/><rect x="278.2" y="493" width="1.8" height="26" fill="#000"/>
<text x="310.60" y="509.60" font-size="26.73" fill="#000" textLength="56.05" lengthAdjust="spacingAndGlyphs">max</text>
</svg></body></html>
